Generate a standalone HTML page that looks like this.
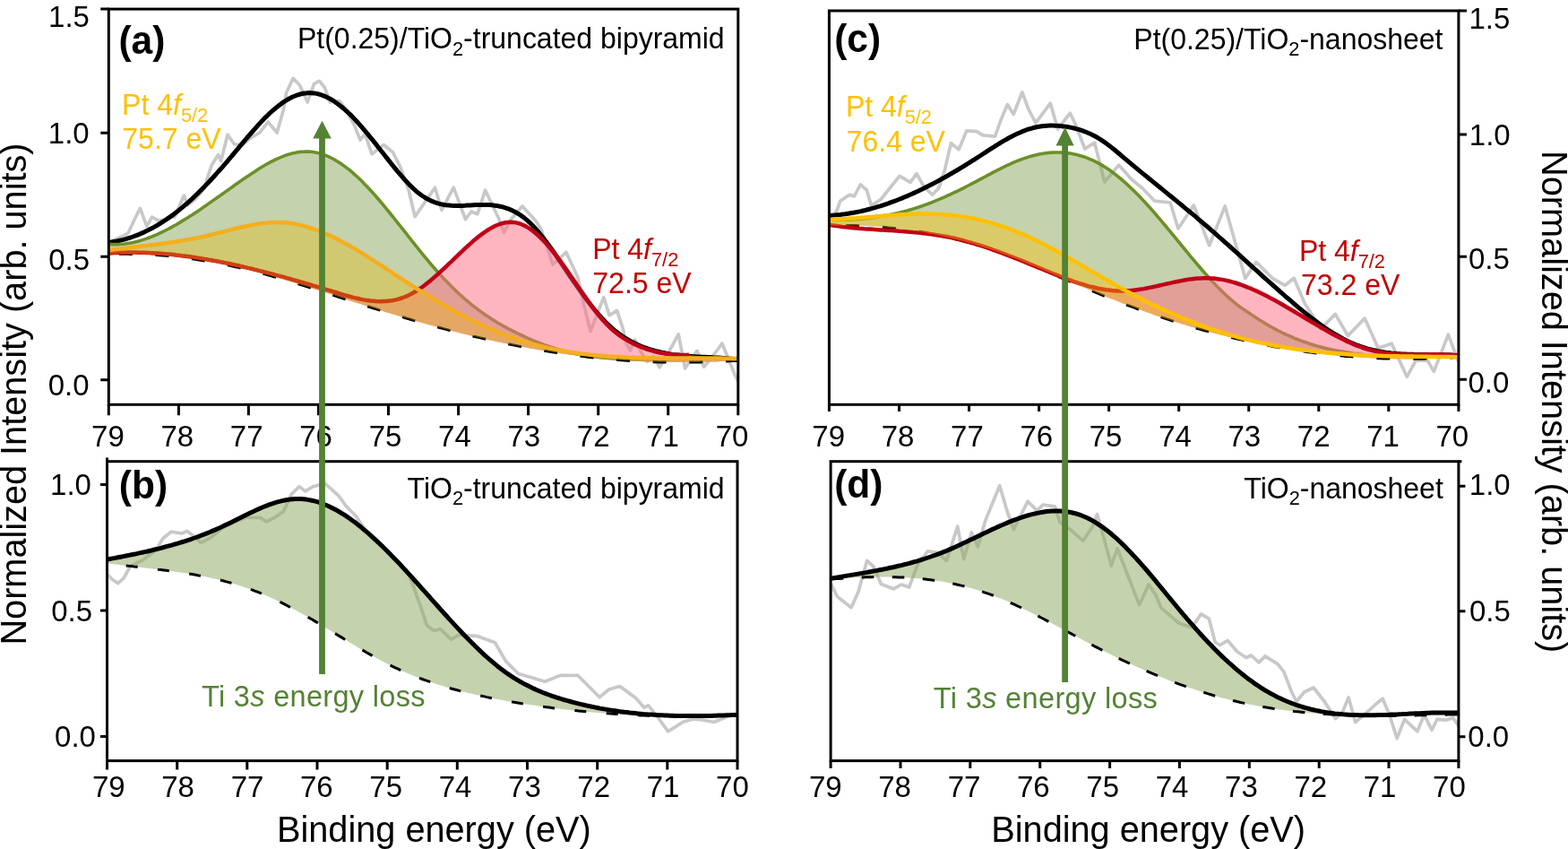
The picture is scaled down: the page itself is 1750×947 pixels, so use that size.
<!DOCTYPE html><html><head><meta charset="utf-8"><title>XPS Pt 4f spectra</title><style>html,body{margin:0;padding:0;background:#fff;overflow:hidden}svg{display:block}</style></head><body><svg width="1750" height="947" viewBox="0 0 1750 947" font-family="'Liberation Sans', sans-serif">
<rect width="1750" height="947" fill="#fff"/>
<defs>
<clipPath id="clipa"><rect x="121.3" y="10.1" width="702.5" height="441.2"/></clipPath>
<clipPath id="clipb"><rect x="119.5" y="514.7" width="703.5" height="333.9"/></clipPath>
<clipPath id="clipc"><rect x="925.4" y="12" width="702.5" height="439.3"/></clipPath>
<clipPath id="clipd"><rect x="927.1" y="514.7" width="700.8" height="333.9"/></clipPath>
</defs>
<g clip-path="url(#clipa)">
<path d="M121.5 270.0L130.0 266.5L137.0 263.5L143.1 259.7L150.0 245.0L156.4 232.4L163.8 252.3L169.7 242.0L177.1 246.4L186.0 244.0L194.9 242.0L205.2 218.3L209.6 228.7L218.0 222.0L227.4 210.9L236.2 184.3L243.6 172.5L246.6 179.9L254.0 150.3L261.4 160.7L270.2 162.2L280.6 153.3L290.0 148.0L299.0 136.0L309.2 148.0L316.6 121.4L319.6 103.6L327.0 87.4L334.3 94.8L343.2 114.0L350.6 93.3L356.5 90.3L362.4 97.7L368.3 114.0L378.7 112.5L386.0 122.0L395.1 138.8L402.1 156.2L407.3 149.3L415.1 171.9L428.2 161.5L438.7 170.2L447.4 187.6L456.1 212.0L463.1 241.6L485.5 209.2L492.9 234.3L506.2 209.2L519.5 244.7L526.0 236.0L532.8 238.8L541.6 212.2L556.4 243.2L562.3 259.5L570.0 245.0L583.0 229.9L597.8 246.2L603.7 255.0L617.0 295.0L631.8 281.3L645.1 309.8L650.6 335.8L659.0 369.6L673.8 331.6L680.1 351.7L688.6 346.4L694.9 365.4L699.1 383.4L703.4 390.8L708.6 379.1L715.0 392.0L722.4 403.4L729.0 398.0L736.1 409.8L745.0 395.0L757.2 372.8L764.6 410.8L778.0 391.4L785.6 409.2L795.0 398.0L805.9 383.0L821.1 420.2L824.0 426.0" fill="none" stroke="#c8c8c8" stroke-width="3.7" stroke-linejoin="round"/>
<path d="M121.5 270.3L124.5 269.9L127.5 269.4L130.5 268.9L133.5 268.3L136.6 267.6L139.6 266.8L142.6 265.9L145.6 265.0L148.6 264.0L151.6 262.8L154.6 261.7L157.6 260.4L160.6 259.1L163.7 257.6L166.7 256.1L169.7 254.6L172.7 252.9L175.7 251.2L178.7 249.3L181.7 247.4L184.7 245.5L187.7 243.4L190.7 241.3L193.8 239.1L196.8 236.8L199.8 234.4L202.8 231.9L205.8 229.4L208.8 226.8L211.8 224.1L214.8 221.4L217.8 218.5L220.9 215.6L223.9 212.6L226.9 209.6L229.9 206.4L232.9 203.3L235.9 200.0L238.9 196.7L241.9 193.4L244.9 190.0L248.0 186.6L251.0 183.1L254.0 179.6L257.0 176.0L260.0 172.5L263.0 168.9L266.0 165.3L269.0 161.7L272.0 158.1L275.0 154.5L278.1 151.0L281.1 147.5L284.1 144.1L287.1 140.7L290.1 137.4L293.1 134.2L296.1 131.1L299.1 128.2L302.1 125.3L305.2 122.6L308.2 120.1L311.2 117.7L314.2 115.4L317.2 113.4L320.2 111.5L323.2 109.8L326.2 108.3L329.2 107.0L332.3 105.9L335.3 105.0L338.3 104.3L341.3 103.9L344.3 103.6L347.3 103.7L350.3 103.9L353.3 104.4L356.3 105.2L359.3 106.1L362.4 107.3L365.4 108.7L368.4 110.2L371.4 112.0L374.4 114.0L377.4 116.2L380.4 118.5L383.4 121.0L386.4 123.7L389.5 126.5L392.5 129.4L395.5 132.6L398.5 135.8L401.5 139.1L404.5 142.6L407.5 146.1L410.5 149.7L413.5 153.4L416.6 157.1L419.6 160.9L422.6 164.7L425.6 168.5L428.6 172.3L431.6 176.1L434.6 179.9L437.6 183.7L440.6 187.4L443.6 191.1L446.7 194.7L449.7 198.1L452.7 201.5L455.7 204.7L458.7 207.7L461.7 210.6L464.7 213.3L467.7 215.8L470.7 218.0L473.8 220.0L476.8 221.8L479.8 223.4L482.8 224.7L485.8 225.8L488.8 226.8L491.8 227.6L494.8 228.2L497.8 228.7L500.9 229.0L503.9 229.3L506.9 229.4L509.9 229.5L512.9 229.5L515.9 229.4L518.9 229.3L521.9 229.1L524.9 229.0L527.9 228.8L531.0 228.6L534.0 228.5L537.0 228.4L540.0 228.4L543.0 228.5L546.0 228.6L549.0 228.8L552.0 229.2L555.0 229.6L558.1 230.2L561.1 230.9L564.1 231.8L567.1 232.8L570.1 234.1L573.1 235.5L576.1 237.0L579.1 238.8L582.1 240.9L585.2 243.1L588.2 245.6L591.2 248.3L594.2 251.3L597.2 254.5L600.2 257.9L603.2 261.5L606.2 265.3L609.2 269.2L612.2 273.3L615.3 277.5L618.3 281.8L621.3 286.1L624.3 290.5L627.3 294.9L630.3 299.4L633.3 303.8L636.3 308.3L639.3 312.7L642.4 317.0L645.4 321.3L648.4 325.5L651.4 329.7L654.4 333.8L657.4 337.7L660.4 341.6L663.4 345.3L666.4 348.9L669.5 352.4L672.5 355.7L675.5 358.9L678.5 361.9L681.5 364.7L684.5 367.3L687.5 369.8L690.5 372.1L693.5 374.3L696.5 376.3L699.6 378.2L702.6 380.0L705.6 381.6L708.6 383.1L711.6 384.5L714.6 385.8L717.6 387.0L720.6 388.1L723.6 389.2L726.7 390.1L729.7 391.0L732.7 391.8L735.7 392.5L738.7 393.2L741.7 393.8L744.7 394.4L747.7 394.9L750.7 395.4L753.8 395.8L756.8 396.1L759.8 396.5L762.8 396.8L765.8 397.0L768.8 397.3L771.8 397.5L774.8 397.7L777.8 397.9L780.8 398.0L783.9 398.2L786.9 398.3L789.9 398.5L792.9 398.6L795.9 398.8L798.9 398.9L801.9 399.1L804.9 399.3L807.9 399.5L811.0 399.7L814.0 400.0L817.0 400.2L820.0 400.5L823.0 400.9" fill="none" stroke="#000" stroke-width="5.0" stroke-linejoin="round"/>
<path d="M121.5 272.4L124.5 272.6L127.5 272.6L130.5 272.6L133.5 272.5L136.6 272.3L139.6 272.0L142.6 271.5L145.6 271.0L148.6 270.4L151.6 269.7L154.6 269.0L157.6 268.1L160.6 267.1L163.7 266.1L166.7 265.0L169.7 263.9L172.7 262.6L175.7 261.3L178.7 259.9L181.7 258.5L184.7 257.0L187.7 255.5L190.7 253.9L193.8 252.2L196.8 250.5L199.8 248.7L202.8 246.9L205.8 245.1L208.8 243.2L211.8 241.3L214.8 239.4L217.8 237.4L220.9 235.4L223.9 233.4L226.9 231.3L229.9 229.2L232.9 227.1L235.9 225.0L238.9 222.9L241.9 220.8L244.9 218.7L248.0 216.5L251.0 214.4L254.0 212.2L257.0 210.1L260.0 208.0L263.0 205.8L266.0 203.7L269.0 201.6L272.0 199.5L275.0 197.5L278.1 195.4L281.1 193.4L284.1 191.5L287.1 189.5L290.1 187.6L293.1 185.8L296.1 184.0L299.1 182.3L302.1 180.7L305.2 179.2L308.2 177.7L311.2 176.3L314.2 175.1L317.2 173.9L320.2 172.8L323.2 171.9L326.2 171.1L329.2 170.4L332.3 169.8L335.3 169.4L338.3 169.2L341.3 169.0L344.3 169.1L347.3 169.3L350.3 169.7L353.3 170.2L356.3 171.0L359.3 171.9L362.4 172.9L365.4 174.1L368.4 175.5L371.4 177.0L374.4 178.7L377.4 180.5L380.4 182.5L383.4 184.6L386.4 186.8L389.5 189.2L392.5 191.7L395.5 194.3L398.5 197.0L401.5 199.8L404.5 202.8L407.5 205.9L410.5 209.0L413.5 212.3L416.6 215.6L419.6 219.0L422.6 222.5L425.6 226.0L428.6 229.6L431.6 233.3L434.6 237.0L437.6 240.7L440.6 244.5L443.6 248.3L446.7 252.1L449.7 255.9L452.7 259.7L455.7 263.5L458.7 267.3L461.7 271.1L464.7 274.9L467.7 278.7L470.7 282.4L473.8 286.1L476.8 289.7L479.8 293.3L482.8 296.8L485.8 300.2L488.8 303.6L491.8 306.9L494.8 310.2L497.8 313.3L500.9 316.5L503.9 319.5L506.9 322.5L509.9 325.4L512.9 328.2L515.9 330.9L518.9 333.6L521.9 336.1L524.9 338.6L527.9 341.1L531.0 343.4L534.0 345.7L537.0 347.9L540.0 350.0L543.0 352.1L546.0 354.1L549.0 356.1L552.0 357.9L555.0 359.8L558.1 361.5L561.1 363.3L564.1 364.9L567.1 366.6L570.1 368.1L573.1 369.7L576.1 371.2L579.1 372.6L582.1 374.0L585.2 375.4L588.2 376.8L591.2 378.1L594.2 379.4L597.2 380.6L600.2 381.8L603.2 383.0L606.2 384.1L609.2 385.2L612.2 386.3L615.3 387.3L618.3 388.2L621.3 389.1L624.3 390.0L627.3 390.8L630.3 391.6L633.3 392.4L636.3 393.1L639.3 393.8L642.4 394.4L645.4 395.0L648.4 395.6L651.4 396.1L654.4 396.6L657.4 397.0L660.4 397.5L663.4 397.9L666.4 398.2L669.5 398.6L672.5 398.9L675.5 399.2L678.5 399.4L681.5 399.7L684.5 399.9L687.5 400.1L690.5 400.2L693.5 400.4L696.5 400.5L699.6 400.6L702.6 400.7L705.6 400.8L708.6 400.8L711.6 400.9L714.6 400.9L717.6 400.9L720.6 400.9L723.6 400.9L726.7 400.9L729.7 400.9L732.7 400.9L735.7 400.8L738.7 400.8L741.7 400.7L744.7 400.7L747.7 400.6L750.7 400.5L753.8 400.5L756.8 400.4L759.8 400.3L762.8 400.3L765.8 400.2L768.8 400.2L771.8 400.1L774.8 400.1L777.8 400.0L780.8 400.0L783.9 400.0L786.9 400.0L789.9 400.0L792.9 400.0L795.9 400.0L798.9 400.1L801.9 400.1L804.9 400.2L807.9 400.3L811.0 400.4L814.0 400.5L817.0 400.6L820.0 400.8L823.0 401.0L823.0 402.4L820.0 402.5L817.0 402.6L814.0 402.8L811.0 402.9L807.9 403.0L804.9 403.1L801.9 403.3L798.9 403.4L795.9 403.5L792.9 403.6L789.9 403.6L786.9 403.7L783.9 403.8L780.8 403.9L777.8 403.9L774.8 404.0L771.8 404.0L768.8 404.1L765.8 404.1L762.8 404.1L759.8 404.1L756.8 404.1L753.8 404.1L750.7 404.1L747.7 404.1L744.7 404.1L741.7 404.0L738.7 404.0L735.7 403.9L732.7 403.8L729.7 403.7L726.7 403.6L723.6 403.5L720.6 403.4L717.6 403.3L714.6 403.1L711.6 403.0L708.6 402.8L705.6 402.6L702.6 402.4L699.6 402.2L696.5 402.0L693.5 401.8L690.5 401.6L687.5 401.3L684.5 401.1L681.5 400.8L678.5 400.5L675.5 400.3L672.5 400.0L669.5 399.7L666.4 399.4L663.4 399.0L660.4 398.7L657.4 398.4L654.4 398.0L651.4 397.6L648.4 397.3L645.4 396.9L642.4 396.5L639.3 396.1L636.3 395.7L633.3 395.3L630.3 394.8L627.3 394.4L624.3 393.9L621.3 393.5L618.3 393.0L615.3 392.5L612.2 392.1L609.2 391.6L606.2 391.1L603.2 390.5L600.2 390.0L597.2 389.5L594.2 389.0L591.2 388.4L588.2 387.8L585.2 387.3L582.1 386.7L579.1 386.1L576.1 385.5L573.1 384.9L570.1 384.3L567.1 383.7L564.1 383.1L561.1 382.4L558.1 381.8L555.0 381.2L552.0 380.5L549.0 379.8L546.0 379.2L543.0 378.5L540.0 377.8L537.0 377.1L534.0 376.4L531.0 375.7L527.9 375.0L524.9 374.2L521.9 373.5L518.9 372.8L515.9 372.0L512.9 371.3L509.9 370.5L506.9 369.7L503.9 368.9L500.9 368.2L497.8 367.4L494.8 366.6L491.8 365.8L488.8 365.0L485.8 364.1L482.8 363.3L479.8 362.5L476.8 361.7L473.8 360.8L470.7 360.0L467.7 359.1L464.7 358.2L461.7 357.4L458.7 356.5L455.7 355.6L452.7 354.7L449.7 353.8L446.7 352.9L443.6 352.0L440.6 351.1L437.6 350.2L434.6 349.3L431.6 348.4L428.6 347.4L425.6 346.5L422.6 345.6L419.6 344.6L416.6 343.7L413.5 342.7L410.5 341.8L407.5 340.8L404.5 339.8L401.5 338.8L398.5 337.9L395.5 336.9L392.5 335.9L389.5 334.9L386.4 334.0L383.4 333.0L380.4 332.0L377.4 331.0L374.4 330.0L371.4 329.0L368.4 328.1L365.4 327.1L362.4 326.1L359.3 325.1L356.3 324.1L353.3 323.2L350.3 322.2L347.3 321.3L344.3 320.3L341.3 319.3L338.3 318.4L335.3 317.5L332.3 316.5L329.2 315.6L326.2 314.7L323.2 313.8L320.2 312.9L317.2 312.0L314.2 311.1L311.2 310.2L308.2 309.3L305.2 308.5L302.1 307.6L299.1 306.8L296.1 305.9L293.1 305.1L290.1 304.3L287.1 303.5L284.1 302.7L281.1 302.0L278.1 301.2L275.0 300.5L272.0 299.8L269.0 299.0L266.0 298.3L263.0 297.7L260.0 297.0L257.0 296.3L254.0 295.7L251.0 295.1L248.0 294.5L244.9 293.9L241.9 293.3L238.9 292.7L235.9 292.2L232.9 291.7L229.9 291.2L226.9 290.7L223.9 290.2L220.9 289.7L217.8 289.2L214.8 288.8L211.8 288.4L208.8 288.0L205.8 287.6L202.8 287.2L199.8 286.9L196.8 286.5L193.8 286.2L190.7 285.9L187.7 285.6L184.7 285.3L181.7 285.1L178.7 284.8L175.7 284.6L172.7 284.4L169.7 284.2L166.7 284.1L163.7 283.9L160.6 283.8L157.6 283.6L154.6 283.5L151.6 283.5L148.6 283.4L145.6 283.4L142.6 283.3L139.6 283.3L136.6 283.3L133.5 283.3L130.5 283.4L127.5 283.4L124.5 283.5L121.5 283.6Z" fill="#8aa65c" fill-opacity="0.5"/>
<path d="M121.5 272.4L124.5 272.6L127.5 272.6L130.5 272.6L133.5 272.5L136.6 272.3L139.6 272.0L142.6 271.5L145.6 271.0L148.6 270.4L151.6 269.7L154.6 269.0L157.6 268.1L160.6 267.1L163.7 266.1L166.7 265.0L169.7 263.9L172.7 262.6L175.7 261.3L178.7 259.9L181.7 258.5L184.7 257.0L187.7 255.5L190.7 253.9L193.8 252.2L196.8 250.5L199.8 248.7L202.8 246.9L205.8 245.1L208.8 243.2L211.8 241.3L214.8 239.4L217.8 237.4L220.9 235.4L223.9 233.4L226.9 231.3L229.9 229.2L232.9 227.1L235.9 225.0L238.9 222.9L241.9 220.8L244.9 218.7L248.0 216.5L251.0 214.4L254.0 212.2L257.0 210.1L260.0 208.0L263.0 205.8L266.0 203.7L269.0 201.6L272.0 199.5L275.0 197.5L278.1 195.4L281.1 193.4L284.1 191.5L287.1 189.5L290.1 187.6L293.1 185.8L296.1 184.0L299.1 182.3L302.1 180.7L305.2 179.2L308.2 177.7L311.2 176.3L314.2 175.1L317.2 173.9L320.2 172.8L323.2 171.9L326.2 171.1L329.2 170.4L332.3 169.8L335.3 169.4L338.3 169.2L341.3 169.0L344.3 169.1L347.3 169.3L350.3 169.7L353.3 170.2L356.3 171.0L359.3 171.9L362.4 172.9L365.4 174.1L368.4 175.5L371.4 177.0L374.4 178.7L377.4 180.5L380.4 182.5L383.4 184.6L386.4 186.8L389.5 189.2L392.5 191.7L395.5 194.3L398.5 197.0L401.5 199.8L404.5 202.8L407.5 205.9L410.5 209.0L413.5 212.3L416.6 215.6L419.6 219.0L422.6 222.5L425.6 226.0L428.6 229.6L431.6 233.3L434.6 237.0L437.6 240.7L440.6 244.5L443.6 248.3L446.7 252.1L449.7 255.9L452.7 259.7L455.7 263.5L458.7 267.3L461.7 271.1L464.7 274.9L467.7 278.7L470.7 282.4L473.8 286.1L476.8 289.7L479.8 293.3L482.8 296.8L485.8 300.2L488.8 303.6L491.8 306.9L494.8 310.2L497.8 313.3L500.9 316.5L503.9 319.5L506.9 322.5L509.9 325.4L512.9 328.2L515.9 330.9L518.9 333.6L521.9 336.1L524.9 338.6L527.9 341.1L531.0 343.4L534.0 345.7L537.0 347.9L540.0 350.0L543.0 352.1L546.0 354.1L549.0 356.1L552.0 357.9L555.0 359.8L558.1 361.5L561.1 363.3L564.1 364.9L567.1 366.6L570.1 368.1L573.1 369.7L576.1 371.2L579.1 372.6L582.1 374.0L585.2 375.4L588.2 376.8L591.2 378.1L594.2 379.4L597.2 380.6L600.2 381.8L603.2 383.0L606.2 384.1L609.2 385.2L612.2 386.3L615.3 387.3L618.3 388.2L621.3 389.1L624.3 390.0L627.3 390.8L630.3 391.6L633.3 392.4L636.3 393.1L639.3 393.8L642.4 394.4L645.4 395.0L648.4 395.6L651.4 396.1L654.4 396.6L657.4 397.0L660.4 397.5L663.4 397.9L666.4 398.2L669.5 398.6L672.5 398.9L675.5 399.2L678.5 399.4L681.5 399.7L684.5 399.9L687.5 400.1L690.5 400.2L693.5 400.4L696.5 400.5L699.6 400.6L702.6 400.7L705.6 400.8L708.6 400.8L711.6 400.9L714.6 400.9L717.6 400.9L720.6 400.9L723.6 400.9L726.7 400.9L729.7 400.9L732.7 400.9L735.7 400.8L738.7 400.8L741.7 400.7L744.7 400.7L747.7 400.6L750.7 400.5L753.8 400.5L756.8 400.4L759.8 400.3L762.8 400.3L765.8 400.2L768.8 400.2L771.8 400.1L774.8 400.1L777.8 400.0L780.8 400.0L783.9 400.0L786.9 400.0L789.9 400.0L792.9 400.0L795.9 400.0L798.9 400.1L801.9 400.1L804.9 400.2L807.9 400.3L811.0 400.4L814.0 400.5L817.0 400.6L820.0 400.8L823.0 401.0" fill="none" stroke="#6b9028" stroke-width="3.6" stroke-linejoin="round"/>
<path d="M121.5 282.4L124.5 282.2L127.5 282.1L130.5 281.9L133.5 281.8L136.6 281.7L139.6 281.7L142.6 281.6L145.6 281.6L148.6 281.6L151.6 281.6L154.6 281.7L157.6 281.7L160.6 281.8L163.6 281.9L166.7 282.1L169.7 282.2L172.7 282.4L175.7 282.6L178.7 282.8L181.7 283.0L184.7 283.3L187.7 283.5L190.7 283.8L193.8 284.1L196.8 284.5L199.8 284.8L202.8 285.2L205.8 285.5L208.8 285.9L211.8 286.3L214.8 286.8L217.8 287.2L220.9 287.7L223.9 288.1L226.9 288.6L229.9 289.1L232.9 289.7L235.9 290.2L238.9 290.8L241.9 291.3L244.9 291.9L247.9 292.5L251.0 293.1L254.0 293.7L257.0 294.3L260.0 295.0L263.0 295.6L266.0 296.3L269.0 297.0L272.0 297.7L275.0 298.4L278.1 299.1L281.1 299.8L284.1 300.6L287.1 301.3L290.1 302.1L293.1 302.8L296.1 303.6L299.1 304.4L302.1 305.2L305.2 306.0L308.2 306.8L311.2 307.6L314.2 308.4L317.2 309.2L320.2 310.1L323.2 310.9L326.2 311.8L329.2 312.6L332.2 313.5L335.3 314.4L338.3 315.2L341.3 316.1L344.3 317.0L347.3 317.9L350.3 318.8L353.3 319.7L356.3 320.6L359.3 321.5L362.4 322.4L365.4 323.3L368.4 324.2L371.4 325.1L374.4 326.0L377.4 327.0L380.4 327.9L383.4 328.8L386.4 329.6L389.5 330.5L392.5 331.3L395.5 332.1L398.5 332.8L401.5 333.5L404.5 334.1L407.5 334.6L410.5 335.1L413.5 335.5L416.5 335.8L419.6 336.1L422.6 336.2L425.6 336.2L428.6 336.1L431.6 336.0L434.6 335.6L437.6 335.2L440.6 334.6L443.6 333.9L446.7 333.0L449.7 332.0L452.7 330.9L455.7 329.5L458.7 328.0L461.7 326.3L464.7 324.5L467.7 322.6L470.7 320.5L473.8 318.2L476.8 315.9L479.8 313.5L482.8 310.9L485.8 308.3L488.8 305.7L491.8 302.9L494.8 300.1L497.8 297.3L500.8 294.4L503.9 291.6L506.9 288.7L509.9 285.8L512.9 282.9L515.9 280.1L518.9 277.2L521.9 274.5L524.9 271.8L527.9 269.1L531.0 266.6L534.0 264.1L537.0 261.8L540.0 259.6L543.0 257.5L546.0 255.6L549.0 253.9L552.0 252.3L555.0 251.0L558.1 249.9L561.1 249.0L564.1 248.3L567.1 247.9L570.1 247.8L573.1 247.9L576.1 248.4L579.1 249.2L582.1 250.2L585.1 251.6L588.2 253.2L591.2 255.1L594.2 257.3L597.2 259.7L600.2 262.3L603.2 265.1L606.2 268.1L609.2 271.3L612.2 274.7L615.3 278.3L618.3 282.0L621.3 285.8L624.3 289.8L627.3 293.9L630.3 298.1L633.3 302.3L636.3 306.7L639.3 311.1L642.4 315.5L645.4 319.9L648.4 324.3L651.4 328.7L654.4 333.1L657.4 337.3L660.4 341.5L663.4 345.5L666.4 349.4L669.4 353.1L672.5 356.7L675.5 360.0L678.5 363.2L681.5 366.1L684.5 368.8L687.5 371.2L690.5 373.5L693.5 375.7L696.5 377.6L699.6 379.4L702.6 381.1L705.6 382.7L708.6 384.1L711.6 385.5L714.6 386.7L717.6 387.9L720.6 389.0L723.6 390.0L726.7 390.9L729.7 391.8L732.7 392.5L735.7 393.2L738.7 393.8L741.7 394.3L744.7 394.7L747.7 395.1L750.7 395.4L753.7 395.7L756.8 395.8L759.8 395.9L762.8 396.0L765.8 395.9L768.8 395.8L823.0 402.4L820.0 402.5L817.0 402.6L814.0 402.8L811.0 402.9L807.9 403.0L804.9 403.1L801.9 403.3L798.9 403.4L795.9 403.5L792.9 403.6L789.9 403.6L786.9 403.7L783.9 403.8L780.8 403.9L777.8 403.9L774.8 404.0L771.8 404.0L768.8 404.1L765.8 404.1L762.8 404.1L759.8 404.1L756.8 404.1L753.8 404.1L750.7 404.1L747.7 404.1L744.7 404.1L741.7 404.0L738.7 404.0L735.7 403.9L732.7 403.8L729.7 403.7L726.7 403.6L723.6 403.5L720.6 403.4L717.6 403.3L714.6 403.1L711.6 403.0L708.6 402.8L705.6 402.6L702.6 402.4L699.6 402.2L696.5 402.0L693.5 401.8L690.5 401.6L687.5 401.3L684.5 401.1L681.5 400.8L678.5 400.5L675.5 400.3L672.5 400.0L669.5 399.7L666.4 399.4L663.4 399.0L660.4 398.7L657.4 398.4L654.4 398.0L651.4 397.6L648.4 397.3L645.4 396.9L642.4 396.5L639.3 396.1L636.3 395.7L633.3 395.3L630.3 394.8L627.3 394.4L624.3 393.9L621.3 393.5L618.3 393.0L615.3 392.5L612.2 392.1L609.2 391.6L606.2 391.1L603.2 390.5L600.2 390.0L597.2 389.5L594.2 389.0L591.2 388.4L588.2 387.8L585.2 387.3L582.1 386.7L579.1 386.1L576.1 385.5L573.1 384.9L570.1 384.3L567.1 383.7L564.1 383.1L561.1 382.4L558.1 381.8L555.0 381.2L552.0 380.5L549.0 379.8L546.0 379.2L543.0 378.5L540.0 377.8L537.0 377.1L534.0 376.4L531.0 375.7L527.9 375.0L524.9 374.2L521.9 373.5L518.9 372.8L515.9 372.0L512.9 371.3L509.9 370.5L506.9 369.7L503.9 368.9L500.9 368.2L497.8 367.4L494.8 366.6L491.8 365.8L488.8 365.0L485.8 364.1L482.8 363.3L479.8 362.5L476.8 361.7L473.8 360.8L470.7 360.0L467.7 359.1L464.7 358.2L461.7 357.4L458.7 356.5L455.7 355.6L452.7 354.7L449.7 353.8L446.7 352.9L443.6 352.0L440.6 351.1L437.6 350.2L434.6 349.3L431.6 348.4L428.6 347.4L425.6 346.5L422.6 345.6L419.6 344.6L416.6 343.7L413.5 342.7L410.5 341.8L407.5 340.8L404.5 339.8L401.5 338.8L398.5 337.9L395.5 336.9L392.5 335.9L389.5 334.9L386.4 334.0L383.4 333.0L380.4 332.0L377.4 331.0L374.4 330.0L371.4 329.0L368.4 328.1L365.4 327.1L362.4 326.1L359.3 325.1L356.3 324.1L353.3 323.2L350.3 322.2L347.3 321.3L344.3 320.3L341.3 319.3L338.3 318.4L335.3 317.5L332.3 316.5L329.2 315.6L326.2 314.7L323.2 313.8L320.2 312.9L317.2 312.0L314.2 311.1L311.2 310.2L308.2 309.3L305.2 308.5L302.1 307.6L299.1 306.8L296.1 305.9L293.1 305.1L290.1 304.3L287.1 303.5L284.1 302.7L281.1 302.0L278.1 301.2L275.0 300.5L272.0 299.8L269.0 299.0L266.0 298.3L263.0 297.7L260.0 297.0L257.0 296.3L254.0 295.7L251.0 295.1L248.0 294.5L244.9 293.9L241.9 293.3L238.9 292.7L235.9 292.2L232.9 291.7L229.9 291.2L226.9 290.7L223.9 290.2L220.9 289.7L217.8 289.2L214.8 288.8L211.8 288.4L208.8 288.0L205.8 287.6L202.8 287.2L199.8 286.9L196.8 286.5L193.8 286.2L190.7 285.9L187.7 285.6L184.7 285.3L181.7 285.1L178.7 284.8L175.7 284.6L172.7 284.4L169.7 284.2L166.7 284.1L163.7 283.9L160.6 283.8L157.6 283.6L154.6 283.5L151.6 283.5L148.6 283.4L145.6 283.4L142.6 283.3L139.6 283.3L136.6 283.3L133.5 283.3L130.5 283.4L127.5 283.4L124.5 283.5L121.5 283.6Z" fill="#ff6b81" fill-opacity="0.5"/>
<path d="M121.5 283.6L124.5 283.5L127.5 283.4L130.5 283.4L133.5 283.3L136.6 283.3L139.6 283.3L142.6 283.3L145.6 283.4L148.6 283.4L151.6 283.5L154.6 283.5L157.6 283.6L160.6 283.8L163.7 283.9L166.7 284.1L169.7 284.2L172.7 284.4L175.7 284.6L178.7 284.8L181.7 285.1L184.7 285.3L187.7 285.6L190.7 285.9L193.8 286.2L196.8 286.5L199.8 286.9L202.8 287.2L205.8 287.6L208.8 288.0L211.8 288.4L214.8 288.8L217.8 289.2L220.9 289.7L223.9 290.2L226.9 290.7L229.9 291.2L232.9 291.7L235.9 292.2L238.9 292.7L241.9 293.3L244.9 293.9L248.0 294.5L251.0 295.1L254.0 295.7L257.0 296.3L260.0 297.0L263.0 297.7L266.0 298.3L269.0 299.0L272.0 299.8L275.0 300.5L278.1 301.2L281.1 302.0L284.1 302.7L287.1 303.5L290.1 304.3L293.1 305.1L296.1 305.9L299.1 306.8L302.1 307.6L305.2 308.5L308.2 309.3L311.2 310.2L314.2 311.1L317.2 312.0L320.2 312.9L323.2 313.8L326.2 314.7L329.2 315.6L332.3 316.5L335.3 317.5L338.3 318.4L341.3 319.3L344.3 320.3L347.3 321.3L350.3 322.2L353.3 323.2L356.3 324.1L359.3 325.1L362.4 326.1L365.4 327.1L368.4 328.1L371.4 329.0L374.4 330.0L377.4 331.0L380.4 332.0L383.4 333.0L386.4 334.0L389.5 334.9L392.5 335.9L395.5 336.9L398.5 337.9L401.5 338.8L404.5 339.8L407.5 340.8L410.5 341.8L413.5 342.7L416.6 343.7L419.6 344.6L422.6 345.6L425.6 346.5L428.6 347.4L431.6 348.4L434.6 349.3L437.6 350.2L440.6 351.1L443.6 352.0L446.7 352.9L449.7 353.8L452.7 354.7L455.7 355.6L458.7 356.5L461.7 357.4L464.7 358.2L467.7 359.1L470.7 360.0L473.8 360.8L476.8 361.7L479.8 362.5L482.8 363.3L485.8 364.1L488.8 365.0L491.8 365.8L494.8 366.6L497.8 367.4L500.9 368.2L503.9 368.9L506.9 369.7L509.9 370.5L512.9 371.3L515.9 372.0L518.9 372.8L521.9 373.5L524.9 374.2L527.9 375.0L531.0 375.7L534.0 376.4L537.0 377.1L540.0 377.8L543.0 378.5L546.0 379.2L549.0 379.8L552.0 380.5L555.0 381.2L558.1 381.8L561.1 382.4L564.1 383.1L567.1 383.7L570.1 384.3L573.1 384.9L576.1 385.5L579.1 386.1L582.1 386.7L585.2 387.3L588.2 387.8L591.2 388.4L594.2 389.0L597.2 389.5L600.2 390.0L603.2 390.5L606.2 391.1L609.2 391.6L612.2 392.1L615.3 392.5L618.3 393.0L621.3 393.5L624.3 393.9L627.3 394.4L630.3 394.8L633.3 395.3L636.3 395.7L639.3 396.1L642.4 396.5L645.4 396.9L648.4 397.3L651.4 397.6L654.4 398.0L657.4 398.4L660.4 398.7L663.4 399.0L666.4 399.4L669.5 399.7L672.5 400.0L675.5 400.3L678.5 400.5L681.5 400.8L684.5 401.1L687.5 401.3L690.5 401.6L693.5 401.8L696.5 402.0L699.6 402.2L702.6 402.4L705.6 402.6L708.6 402.8L711.6 403.0L714.6 403.1L717.6 403.3L720.6 403.4L723.6 403.5L726.7 403.6L729.7 403.7L732.7 403.8L735.7 403.9L738.7 404.0L741.7 404.0L744.7 404.1L747.7 404.1L750.7 404.1L753.8 404.1L756.8 404.1L759.8 404.1L762.8 404.1L765.8 404.1L768.8 404.1L771.8 404.0L774.8 404.0L777.8 403.9L780.8 403.9L783.9 403.8L786.9 403.7L789.9 403.6L792.9 403.6L795.9 403.5L798.9 403.4L801.9 403.3L804.9 403.1L807.9 403.0L811.0 402.9L814.0 402.8L817.0 402.6L820.0 402.5L823.0 402.4" fill="none" stroke="#000" stroke-width="3.0" stroke-dasharray="15 25.7" stroke-dashoffset="29.4"/>
<path d="M121.5 282.4L124.5 282.2L127.5 282.1L130.5 281.9L133.5 281.8L136.6 281.7L139.6 281.7L142.6 281.6L145.6 281.6L148.6 281.6L151.6 281.6L154.6 281.7L157.6 281.7L160.6 281.8L163.6 281.9L166.7 282.1L169.7 282.2L172.7 282.4L175.7 282.6L178.7 282.8L181.7 283.0L184.7 283.3L187.7 283.5L190.7 283.8L193.8 284.1L196.8 284.5L199.8 284.8L202.8 285.2L205.8 285.5L208.8 285.9L211.8 286.3L214.8 286.8L217.8 287.2L220.9 287.7L223.9 288.1L226.9 288.6L229.9 289.1L232.9 289.7L235.9 290.2L238.9 290.8L241.9 291.3L244.9 291.9L247.9 292.5L251.0 293.1L254.0 293.7L257.0 294.3L260.0 295.0L263.0 295.6L266.0 296.3L269.0 297.0L272.0 297.7L275.0 298.4L278.1 299.1L281.1 299.8L284.1 300.6L287.1 301.3L290.1 302.1L293.1 302.8L296.1 303.6L299.1 304.4L302.1 305.2L305.2 306.0L308.2 306.8L311.2 307.6L314.2 308.4L317.2 309.2L320.2 310.1L323.2 310.9L326.2 311.8L329.2 312.6L332.2 313.5L335.3 314.4L338.3 315.2L341.3 316.1L344.3 317.0L347.3 317.9L350.3 318.8L353.3 319.7L356.3 320.6L359.3 321.5L362.4 322.4L365.4 323.3L368.4 324.2L371.4 325.1L374.4 326.0L377.4 327.0L380.4 327.9L383.4 328.8L386.4 329.6L389.5 330.5L392.5 331.3L395.5 332.1L398.5 332.8L401.5 333.5L404.5 334.1L407.5 334.6L410.5 335.1L413.5 335.5L416.5 335.8L419.6 336.1L422.6 336.2L425.6 336.2L428.6 336.1L431.6 336.0L434.6 335.6L437.6 335.2L440.6 334.6L443.6 333.9L446.7 333.0L449.7 332.0L452.7 330.9L455.7 329.5L458.7 328.0L461.7 326.3L464.7 324.5L467.7 322.6L470.7 320.5L473.8 318.2L476.8 315.9L479.8 313.5L482.8 310.9L485.8 308.3L488.8 305.7L491.8 302.9L494.8 300.1L497.8 297.3L500.8 294.4L503.9 291.6L506.9 288.7L509.9 285.8L512.9 282.9L515.9 280.1L518.9 277.2L521.9 274.5L524.9 271.8L527.9 269.1L531.0 266.6L534.0 264.1L537.0 261.8L540.0 259.6L543.0 257.5L546.0 255.6L549.0 253.9L552.0 252.3L555.0 251.0L558.1 249.9L561.1 249.0L564.1 248.3L567.1 247.9L570.1 247.8L573.1 247.9L576.1 248.4L579.1 249.2L582.1 250.2L585.1 251.6L588.2 253.2L591.2 255.1L594.2 257.3L597.2 259.7L600.2 262.3L603.2 265.1L606.2 268.1L609.2 271.3L612.2 274.7L615.3 278.3L618.3 282.0L621.3 285.8L624.3 289.8L627.3 293.9L630.3 298.1L633.3 302.3L636.3 306.7L639.3 311.1L642.4 315.5L645.4 319.9L648.4 324.3L651.4 328.7L654.4 333.1L657.4 337.3L660.4 341.5L663.4 345.5L666.4 349.4L669.4 353.1L672.5 356.7L675.5 360.0L678.5 363.2L681.5 366.1L684.5 368.8L687.5 371.2L690.5 373.5L693.5 375.7L696.5 377.6L699.6 379.4L702.6 381.1L705.6 382.7L708.6 384.1L711.6 385.5L714.6 386.7L717.6 387.9L720.6 389.0L723.6 390.0L726.7 390.9L729.7 391.8L732.7 392.5L735.7 393.2L738.7 393.8L741.7 394.3L744.7 394.7L747.7 395.1L750.7 395.4L753.7 395.7L756.8 395.8L759.8 395.9L762.8 396.0L765.8 395.9L768.8 395.8" fill="none" stroke="#c00018" stroke-width="4.5" stroke-linejoin="round"/>
<path d="M121.5 279.1L124.5 278.7L127.5 278.3L130.5 277.9L133.5 277.6L136.6 277.2L139.6 276.8L142.6 276.5L145.6 276.1L148.6 275.8L151.6 275.4L154.6 275.1L157.6 274.7L160.6 274.3L163.7 274.0L166.7 273.6L169.7 273.2L172.7 272.9L175.7 272.5L178.7 272.1L181.7 271.7L184.7 271.3L187.7 270.8L190.7 270.4L193.8 269.9L196.8 269.5L199.8 269.0L202.8 268.5L205.8 268.0L208.8 267.5L211.8 266.9L214.8 266.3L217.8 265.8L220.9 265.1L223.9 264.5L226.9 263.9L229.9 263.2L232.9 262.5L235.9 261.8L238.9 261.0L241.9 260.3L244.9 259.5L248.0 258.7L251.0 258.0L254.0 257.2L257.0 256.4L260.0 255.7L263.0 254.9L266.0 254.2L269.0 253.5L272.0 252.8L275.0 252.2L278.1 251.6L281.1 251.0L284.1 250.5L287.1 250.0L290.1 249.5L293.1 249.1L296.1 248.8L299.1 248.5L302.1 248.3L305.2 248.2L308.2 248.1L311.2 248.1L314.2 248.2L317.2 248.3L320.2 248.6L323.2 248.9L326.2 249.3L329.2 249.8L332.3 250.4L335.3 251.1L338.3 251.8L341.3 252.6L344.3 253.5L347.3 254.5L350.3 255.5L353.3 256.6L356.3 257.7L359.3 258.9L362.4 260.2L365.4 261.5L368.4 262.9L371.4 264.3L374.4 265.8L377.4 267.3L380.4 268.9L383.4 270.5L386.4 272.2L389.5 273.9L392.5 275.6L395.5 277.3L398.5 279.1L401.5 280.9L404.5 282.8L407.5 284.6L410.5 286.5L413.5 288.4L416.6 290.4L419.6 292.3L422.6 294.3L425.6 296.2L428.6 298.2L431.6 300.2L434.6 302.2L437.6 304.1L440.6 306.1L443.6 308.1L446.7 310.1L449.7 312.0L452.7 314.0L455.7 315.9L458.7 317.9L461.7 319.8L464.7 321.7L467.7 323.6L470.7 325.5L473.8 327.3L476.8 329.2L479.8 331.0L482.8 332.8L485.8 334.6L488.8 336.4L491.8 338.2L494.8 339.9L497.8 341.7L500.9 343.4L503.9 345.0L506.9 346.7L509.9 348.4L512.9 350.0L515.9 351.6L518.9 353.2L521.9 354.7L524.9 356.2L527.9 357.7L531.0 359.2L534.0 360.7L537.0 362.1L540.0 363.5L543.0 364.9L546.0 366.2L549.0 367.5L552.0 368.8L555.0 370.1L558.1 371.3L561.1 372.5L564.1 373.7L567.1 374.8L570.1 375.9L573.1 377.0L576.1 378.0L579.1 379.0L582.1 380.0L585.2 380.9L588.2 381.8L591.2 382.7L594.2 383.6L597.2 384.4L600.2 385.2L603.2 385.9L606.2 386.7L609.2 387.4L612.2 388.1L615.3 388.7L618.3 389.4L621.3 390.0L624.3 390.5L627.3 391.1L630.3 391.6L633.3 392.1L636.3 392.6L639.3 393.1L642.4 393.5L645.4 394.0L648.4 394.4L651.4 394.7L654.4 395.1L657.4 395.4L660.4 395.8L663.4 396.1L666.4 396.4L669.5 396.6L672.5 396.9L675.5 397.1L678.5 397.4L681.5 397.6L684.5 397.8L687.5 398.0L690.5 398.1L693.5 398.3L696.5 398.4L699.6 398.6L702.6 398.7L705.6 398.8L708.6 398.9L711.6 399.0L714.6 399.1L717.6 399.1L720.6 399.2L723.6 399.2L726.7 399.3L729.7 399.3L732.7 399.4L735.7 399.4L738.7 399.4L741.7 399.4L744.7 399.4L747.7 399.5L750.7 399.5L753.8 399.5L756.8 399.5L759.8 399.5L762.8 399.5L765.8 399.5L768.8 399.5L771.8 399.5L774.8 399.5L777.8 399.5L780.8 399.5L783.9 399.5L786.9 399.5L789.9 399.5L792.9 399.5L795.9 399.6L798.9 399.6L801.9 399.6L804.9 399.6L807.9 399.7L811.0 399.7L814.0 399.8L817.0 399.9L820.0 399.9L823.0 400.0L823.0 402.4L820.0 402.5L817.0 402.6L814.0 402.8L811.0 402.9L807.9 403.0L804.9 403.1L801.9 403.3L798.9 403.4L795.9 403.5L792.9 403.6L789.9 403.6L786.9 403.7L783.9 403.8L780.8 403.9L777.8 403.9L774.8 404.0L771.8 404.0L768.8 404.1L765.8 404.1L762.8 404.1L759.8 404.1L756.8 404.1L753.8 404.1L750.7 404.1L747.7 404.1L744.7 404.1L741.7 404.0L738.7 404.0L735.7 403.9L732.7 403.8L729.7 403.7L726.7 403.6L723.6 403.5L720.6 403.4L717.6 403.3L714.6 403.1L711.6 403.0L708.6 402.8L705.6 402.6L702.6 402.4L699.6 402.2L696.5 402.0L693.5 401.8L690.5 401.6L687.5 401.3L684.5 401.1L681.5 400.8L678.5 400.5L675.5 400.3L672.5 400.0L669.5 399.7L666.4 399.4L663.4 399.0L660.4 398.7L657.4 398.4L654.4 398.0L651.4 397.6L648.4 397.3L645.4 396.9L642.4 396.5L639.3 396.1L636.3 395.7L633.3 395.3L630.3 394.8L627.3 394.4L624.3 393.9L621.3 393.5L618.3 393.0L615.3 392.5L612.2 392.1L609.2 391.6L606.2 391.1L603.2 390.5L600.2 390.0L597.2 389.5L594.2 389.0L591.2 388.4L588.2 387.8L585.2 387.3L582.1 386.7L579.1 386.1L576.1 385.5L573.1 384.9L570.1 384.3L567.1 383.7L564.1 383.1L561.1 382.4L558.1 381.8L555.0 381.2L552.0 380.5L549.0 379.8L546.0 379.2L543.0 378.5L540.0 377.8L537.0 377.1L534.0 376.4L531.0 375.7L527.9 375.0L524.9 374.2L521.9 373.5L518.9 372.8L515.9 372.0L512.9 371.3L509.9 370.5L506.9 369.7L503.9 368.9L500.9 368.2L497.8 367.4L494.8 366.6L491.8 365.8L488.8 365.0L485.8 364.1L482.8 363.3L479.8 362.5L476.8 361.7L473.8 360.8L470.7 360.0L467.7 359.1L464.7 358.2L461.7 357.4L458.7 356.5L455.7 355.6L452.7 354.7L449.7 353.8L446.7 352.9L443.6 352.0L440.6 351.1L437.6 350.2L434.6 349.3L431.6 348.4L428.6 347.4L425.6 346.5L422.6 345.6L419.6 344.6L416.6 343.7L413.5 342.7L410.5 341.8L407.5 340.8L404.5 339.8L401.5 338.8L398.5 337.9L395.5 336.9L392.5 335.9L389.5 334.9L386.4 334.0L383.4 333.0L380.4 332.0L377.4 331.0L374.4 330.0L371.4 329.0L368.4 328.1L365.4 327.1L362.4 326.1L359.3 325.1L356.3 324.1L353.3 323.2L350.3 322.2L347.3 321.3L344.3 320.3L341.3 319.3L338.3 318.4L335.3 317.5L332.3 316.5L329.2 315.6L326.2 314.7L323.2 313.8L320.2 312.9L317.2 312.0L314.2 311.1L311.2 310.2L308.2 309.3L305.2 308.5L302.1 307.6L299.1 306.8L296.1 305.9L293.1 305.1L290.1 304.3L287.1 303.5L284.1 302.7L281.1 302.0L278.1 301.2L275.0 300.5L272.0 299.8L269.0 299.0L266.0 298.3L263.0 297.7L260.0 297.0L257.0 296.3L254.0 295.7L251.0 295.1L248.0 294.5L244.9 293.9L241.9 293.3L238.9 292.7L235.9 292.2L232.9 291.7L229.9 291.2L226.9 290.7L223.9 290.2L220.9 289.7L217.8 289.2L214.8 288.8L211.8 288.4L208.8 288.0L205.8 287.6L202.8 287.2L199.8 286.9L196.8 286.5L193.8 286.2L190.7 285.9L187.7 285.6L184.7 285.3L181.7 285.1L178.7 284.8L175.7 284.6L172.7 284.4L169.7 284.2L166.7 284.1L163.7 283.9L160.6 283.8L157.6 283.6L154.6 283.5L151.6 283.5L148.6 283.4L145.6 283.4L142.6 283.3L139.6 283.3L136.6 283.3L133.5 283.3L130.5 283.4L127.5 283.4L124.5 283.5L121.5 283.6Z" fill="#e8ba05" fill-opacity="0.35"/>
<path d="M121.5 279.1L124.5 278.7L127.5 278.3L130.5 277.9L133.5 277.6L136.6 277.2L139.6 276.8L142.6 276.5L145.6 276.1L148.6 275.8L151.6 275.4L154.6 275.1L157.6 274.7L160.6 274.3L163.7 274.0L166.7 273.6L169.7 273.2L172.7 272.9L175.7 272.5L178.7 272.1L181.7 271.7L184.7 271.3L187.7 270.8L190.7 270.4L193.8 269.9L196.8 269.5L199.8 269.0L202.8 268.5L205.8 268.0L208.8 267.5L211.8 266.9L214.8 266.3L217.8 265.8L220.9 265.1L223.9 264.5L226.9 263.9L229.9 263.2L232.9 262.5L235.9 261.8L238.9 261.0L241.9 260.3L244.9 259.5L248.0 258.7L251.0 258.0L254.0 257.2L257.0 256.4L260.0 255.7L263.0 254.9L266.0 254.2L269.0 253.5L272.0 252.8L275.0 252.2L278.1 251.6L281.1 251.0L284.1 250.5L287.1 250.0L290.1 249.5L293.1 249.1L296.1 248.8L299.1 248.5L302.1 248.3L305.2 248.2L308.2 248.1L311.2 248.1L314.2 248.2L317.2 248.3L320.2 248.6L323.2 248.9L326.2 249.3L329.2 249.8L332.3 250.4L335.3 251.1L338.3 251.8L341.3 252.6L344.3 253.5L347.3 254.5L350.3 255.5L353.3 256.6L356.3 257.7L359.3 258.9L362.4 260.2L365.4 261.5L368.4 262.9L371.4 264.3L374.4 265.8L377.4 267.3L380.4 268.9L383.4 270.5L386.4 272.2L389.5 273.9L392.5 275.6L395.5 277.3L398.5 279.1L401.5 280.9L404.5 282.8L407.5 284.6L410.5 286.5L413.5 288.4L416.6 290.4L419.6 292.3L422.6 294.3L425.6 296.2L428.6 298.2L431.6 300.2L434.6 302.2L437.6 304.1L440.6 306.1L443.6 308.1L446.7 310.1L449.7 312.0L452.7 314.0L455.7 315.9L458.7 317.9L461.7 319.8L464.7 321.7L467.7 323.6L470.7 325.5L473.8 327.3L476.8 329.2L479.8 331.0L482.8 332.8L485.8 334.6L488.8 336.4L491.8 338.2L494.8 339.9L497.8 341.7L500.9 343.4L503.9 345.0L506.9 346.7L509.9 348.4L512.9 350.0L515.9 351.6L518.9 353.2L521.9 354.7L524.9 356.2L527.9 357.7L531.0 359.2L534.0 360.7L537.0 362.1L540.0 363.5L543.0 364.9L546.0 366.2L549.0 367.5L552.0 368.8L555.0 370.1L558.1 371.3L561.1 372.5L564.1 373.7L567.1 374.8L570.1 375.9L573.1 377.0L576.1 378.0L579.1 379.0L582.1 380.0L585.2 380.9L588.2 381.8L591.2 382.7L594.2 383.6L597.2 384.4L600.2 385.2L603.2 385.9L606.2 386.7L609.2 387.4L612.2 388.1L615.3 388.7L618.3 389.4L621.3 390.0L624.3 390.5L627.3 391.1L630.3 391.6L633.3 392.1L636.3 392.6L639.3 393.1L642.4 393.5L645.4 394.0L648.4 394.4L651.4 394.7L654.4 395.1L657.4 395.4L660.4 395.8L663.4 396.1L666.4 396.4L669.5 396.6L672.5 396.9L675.5 397.1L678.5 397.4L681.5 397.6L684.5 397.8L687.5 398.0L690.5 398.1L693.5 398.3L696.5 398.4L699.6 398.6L702.6 398.7L705.6 398.8L708.6 398.9L711.6 399.0L714.6 399.1L717.6 399.1L720.6 399.2L723.6 399.2L726.7 399.3L729.7 399.3L732.7 399.4L735.7 399.4L738.7 399.4L741.7 399.4L744.7 399.4L747.7 399.5L750.7 399.5L753.8 399.5L756.8 399.5L759.8 399.5L762.8 399.5L765.8 399.5L768.8 399.5L771.8 399.5L774.8 399.5L777.8 399.5L780.8 399.5L783.9 399.5L786.9 399.5L789.9 399.5L792.9 399.5L795.9 399.6L798.9 399.6L801.9 399.6L804.9 399.6L807.9 399.7L811.0 399.7L814.0 399.8L817.0 399.9L820.0 399.9L823.0 400.0" fill="none" stroke="#f4ae1e" stroke-width="4.5" stroke-linejoin="round"/>
</g>
<g clip-path="url(#clipb)">
<path d="M119.5 640.3L125.0 646.0L131.7 650.7L138.0 645.0L145.6 631.5L159.6 624.6L173.5 614.1L182.2 600.2L191.0 593.2L203.1 595.0L208.4 592.3L217.1 598.4L224.1 605.4L235.0 600.0L247.0 590.0L260.0 583.0L275.0 577.0L290.3 577.5L297.3 581.9L307.0 577.0L316.4 570.5L325.2 551.4L333.9 542.7L340.8 547.9L349.6 542.7L356.0 540.9L362.5 539.2L378.1 553.1L386.9 565.3L397.3 575.8L408.0 591.5L421.7 604.5L439.1 622.0L456.6 641.5L461.3 654.0L470.0 678.0L476.5 697.7L484.0 703.5L491.7 701.6L503.6 713.2L512.3 708.0L533.2 709.7L552.4 716.7L564.6 737.6L578.5 751.5L590.7 755.0L608.1 760.3L625.6 753.3L644.8 753.3L669.2 777.7L679.6 769.0L691.8 765.5L709.7 778.8L719.0 789.2L723.6 786.9L734.0 800.0L745.7 815.9L762.0 805.5L773.6 802.0L785.2 803.2L796.8 805.5L808.4 800.8L814.2 797.4L823.0 797.0" fill="none" stroke="#c8c8c8" stroke-width="3.7" stroke-linejoin="round"/>
<path d="M119.5 624.1L122.5 623.5L125.5 622.9L128.5 622.4L131.5 621.8L134.5 621.2L137.5 620.6L140.5 620.0L143.6 619.4L146.6 618.8L149.6 618.2L152.6 617.6L155.6 616.9L158.6 616.3L161.6 615.6L164.6 615.0L167.6 614.3L170.6 613.5L173.6 612.8L176.6 612.1L179.6 611.3L182.6 610.5L185.6 609.7L188.6 608.9L191.7 608.1L194.7 607.2L197.7 606.3L200.7 605.4L203.7 604.5L206.7 603.6L209.7 602.6L212.7 601.6L215.7 600.5L218.7 599.5L221.7 598.4L224.7 597.2L227.7 596.1L230.7 594.9L233.7 593.7L236.8 592.4L239.8 591.1L242.8 589.8L245.8 588.5L248.8 587.1L251.8 585.6L254.8 584.2L257.8 582.7L260.8 581.2L263.8 579.7L266.8 578.2L269.8 576.7L272.8 575.2L275.8 573.7L278.8 572.3L281.8 570.9L284.9 569.5L287.9 568.1L290.9 566.8L293.9 565.5L296.9 564.3L299.9 563.2L302.9 562.1L305.9 561.1L308.9 560.2L311.9 559.4L314.9 558.6L317.9 558.0L320.9 557.4L323.9 557.0L326.9 556.7L329.9 556.5L333.0 556.5L336.0 556.5L339.0 556.8L342.0 557.1L345.0 557.6L348.0 558.2L351.0 558.9L354.0 559.7L357.0 560.7L360.0 561.8L363.0 563.0L366.0 564.2L369.0 565.7L372.0 567.2L375.0 568.8L378.1 570.5L381.1 572.3L384.1 574.2L387.1 576.1L390.1 578.2L393.1 580.4L396.1 582.6L399.1 584.9L402.1 587.3L405.1 589.8L408.1 592.3L411.1 594.9L414.1 597.6L417.1 600.3L420.1 603.1L423.1 605.9L426.2 608.8L429.2 611.8L432.2 614.7L435.2 617.8L438.2 620.9L441.2 624.0L444.2 627.1L447.2 630.3L450.2 633.6L453.2 636.8L456.2 640.1L459.2 643.4L462.2 646.7L465.2 650.0L468.2 653.4L471.2 656.8L474.3 660.1L477.3 663.5L480.3 666.9L483.3 670.3L486.3 673.6L489.3 677.0L492.3 680.4L495.3 683.7L498.3 687.0L501.3 690.4L504.3 693.6L507.3 696.9L510.3 700.1L513.3 703.3L516.3 706.5L519.4 709.7L522.4 712.7L525.4 715.8L528.4 718.8L531.4 721.7L534.4 724.6L537.4 727.5L540.4 730.3L543.4 733.0L546.4 735.6L549.4 738.2L552.4 740.7L555.4 743.2L558.4 745.5L561.4 747.8L564.4 750.0L567.5 752.1L570.5 754.1L573.5 756.1L576.5 757.9L579.5 759.7L582.5 761.4L585.5 763.1L588.5 764.6L591.5 766.1L594.5 767.6L597.5 768.9L600.5 770.3L603.5 771.5L606.5 772.7L609.5 773.9L612.6 775.0L615.6 776.1L618.6 777.1L621.6 778.1L624.6 779.0L627.6 780.0L630.6 780.8L633.6 781.7L636.6 782.5L639.6 783.3L642.6 784.1L645.6 784.9L648.6 785.6L651.6 786.3L654.6 787.0L657.6 787.6L660.7 788.3L663.7 788.9L666.7 789.5L669.7 790.1L672.7 790.6L675.7 791.1L678.7 791.6L681.7 792.1L684.7 792.6L687.7 793.0L690.7 793.5L693.7 793.9L696.7 794.3L699.7 794.6L702.7 795.0L705.8 795.3L708.8 795.6L711.8 795.9L714.8 796.2L717.8 796.5L720.8 796.7L723.8 796.9L726.8 797.1L729.8 797.3L732.8 797.5L735.8 797.7L738.8 797.8L741.8 798.0L744.8 798.1L747.8 798.2L750.8 798.3L753.9 798.4L756.9 798.5L759.9 798.5L762.9 798.6L765.9 798.6L768.9 798.6L771.9 798.6L774.9 798.6L777.9 798.6L780.9 798.6L783.9 798.5L786.9 798.5L789.9 798.4L792.9 798.4L795.9 798.3L798.9 798.2L802.0 798.1L805.0 798.1L808.0 797.9L811.0 797.8L814.0 797.7L817.0 797.6L820.0 797.5L823.0 797.3L823.0 798.2L820.0 798.3L817.0 798.4L814.0 798.5L811.0 798.6L808.0 798.6L805.0 798.7L802.0 798.8L798.9 798.8L795.9 798.9L792.9 798.9L789.9 799.0L786.9 799.0L783.9 799.1L780.9 799.1L777.9 799.1L774.9 799.1L771.9 799.1L768.9 799.1L765.9 799.1L762.9 799.1L759.9 799.1L756.9 799.0L753.9 799.0L750.8 799.0L747.8 798.9L744.8 798.8L741.8 798.8L738.8 798.7L735.8 798.6L732.8 798.6L729.8 798.5L726.8 798.4L723.8 798.3L720.8 798.1L717.8 798.0L714.8 797.9L711.8 797.8L708.8 797.6L705.8 797.5L702.7 797.3L699.7 797.2L696.7 797.0L693.7 796.8L690.7 796.6L687.7 796.4L684.7 796.2L681.7 796.0L678.7 795.8L675.7 795.6L672.7 795.4L669.7 795.1L666.7 794.9L663.7 794.6L660.7 794.4L657.6 794.1L654.6 793.8L651.6 793.5L648.6 793.2L645.6 792.9L642.6 792.6L639.6 792.3L636.6 792.0L633.6 791.7L630.6 791.3L627.6 791.0L624.6 790.6L621.6 790.3L618.6 789.9L615.6 789.5L612.6 789.1L609.5 788.7L606.5 788.3L603.5 787.9L600.5 787.5L597.5 787.1L594.5 786.6L591.5 786.2L588.5 785.7L585.5 785.2L582.5 784.8L579.5 784.3L576.5 783.8L573.5 783.3L570.5 782.8L567.5 782.2L564.4 781.7L561.4 781.1L558.4 780.6L555.4 780.0L552.4 779.4L549.4 778.8L546.4 778.2L543.4 777.6L540.4 776.9L537.4 776.3L534.4 775.6L531.4 775.0L528.4 774.3L525.4 773.6L522.4 772.9L519.4 772.1L516.3 771.4L513.3 770.6L510.3 769.8L507.3 769.0L504.3 768.2L501.3 767.3L498.3 766.4L495.3 765.5L492.3 764.6L489.3 763.7L486.3 762.7L483.3 761.7L480.3 760.7L477.3 759.6L474.3 758.6L471.2 757.5L468.2 756.3L465.2 755.2L462.2 754.0L459.2 752.8L456.2 751.5L453.2 750.3L450.2 748.9L447.2 747.6L444.2 746.2L441.2 744.8L438.2 743.3L435.2 741.9L432.2 740.3L429.2 738.8L426.2 737.2L423.1 735.6L420.1 733.9L417.1 732.3L414.1 730.6L411.1 728.9L408.1 727.2L405.1 725.4L402.1 723.7L399.1 721.9L396.1 720.1L393.1 718.3L390.1 716.4L387.1 714.6L384.1 712.8L381.1 710.9L378.1 709.1L375.0 707.2L372.0 705.4L369.0 703.5L366.0 701.7L363.0 699.9L360.0 698.0L357.0 696.2L354.0 694.4L351.0 692.6L348.0 690.8L345.0 689.1L342.0 687.3L339.0 685.6L336.0 683.9L333.0 682.2L329.9 680.6L326.9 679.0L323.9 677.4L320.9 675.8L317.9 674.2L314.9 672.7L311.9 671.2L308.9 669.7L305.9 668.3L302.9 666.9L299.9 665.6L296.9 664.2L293.9 662.9L290.9 661.7L287.9 660.4L284.9 659.3L281.8 658.1L278.8 657.0L275.8 655.9L272.8 654.9L269.8 653.9L266.8 652.9L263.8 652.0L260.8 651.1L257.8 650.2L254.8 649.4L251.8 648.6L248.8 647.8L245.8 647.0L242.8 646.3L239.8 645.6L236.8 644.9L233.7 644.3L230.7 643.6L227.7 643.0L224.7 642.4L221.7 641.9L218.7 641.3L215.7 640.8L212.7 640.3L209.7 639.8L206.7 639.3L203.7 638.8L200.7 638.4L197.7 637.9L194.7 637.5L191.7 637.1L188.6 636.7L185.6 636.3L182.6 635.9L179.6 635.5L176.6 635.2L173.6 634.8L170.6 634.4L167.6 634.1L164.6 633.7L161.6 633.4L158.6 633.0L155.6 632.7L152.6 632.3L149.6 632.0L146.6 631.6L143.6 631.3L140.5 630.9L137.5 630.6L134.5 630.2L131.5 629.8L128.5 629.4L125.5 629.1L122.5 628.7L119.5 628.2Z" fill="#8aa65c" fill-opacity="0.5"/>
<path d="M119.5 628.2L122.5 628.7L125.5 629.1L128.5 629.4L131.5 629.8L134.5 630.2L137.5 630.6L140.5 630.9L143.6 631.3L146.6 631.6L149.6 632.0L152.6 632.3L155.6 632.7L158.6 633.0L161.6 633.4L164.6 633.7L167.6 634.1L170.6 634.4L173.6 634.8L176.6 635.2L179.6 635.5L182.6 635.9L185.6 636.3L188.6 636.7L191.7 637.1L194.7 637.5L197.7 637.9L200.7 638.4L203.7 638.8L206.7 639.3L209.7 639.8L212.7 640.3L215.7 640.8L218.7 641.3L221.7 641.9L224.7 642.4L227.7 643.0L230.7 643.6L233.7 644.3L236.8 644.9L239.8 645.6L242.8 646.3L245.8 647.0L248.8 647.8L251.8 648.6L254.8 649.4L257.8 650.2L260.8 651.1L263.8 652.0L266.8 652.9L269.8 653.9L272.8 654.9L275.8 655.9L278.8 657.0L281.8 658.1L284.9 659.3L287.9 660.4L290.9 661.7L293.9 662.9L296.9 664.2L299.9 665.6L302.9 666.9L305.9 668.3L308.9 669.7L311.9 671.2L314.9 672.7L317.9 674.2L320.9 675.8L323.9 677.4L326.9 679.0L329.9 680.6L333.0 682.2L336.0 683.9L339.0 685.6L342.0 687.3L345.0 689.1L348.0 690.8L351.0 692.6L354.0 694.4L357.0 696.2L360.0 698.0L363.0 699.9L366.0 701.7L369.0 703.5L372.0 705.4L375.0 707.2L378.1 709.1L381.1 710.9L384.1 712.8L387.1 714.6L390.1 716.4L393.1 718.3L396.1 720.1L399.1 721.9L402.1 723.7L405.1 725.4L408.1 727.2L411.1 728.9L414.1 730.6L417.1 732.3L420.1 733.9L423.1 735.6L426.2 737.2L429.2 738.8L432.2 740.3L435.2 741.9L438.2 743.3L441.2 744.8L444.2 746.2L447.2 747.6L450.2 748.9L453.2 750.3L456.2 751.5L459.2 752.8L462.2 754.0L465.2 755.2L468.2 756.3L471.2 757.5L474.3 758.6L477.3 759.6L480.3 760.7L483.3 761.7L486.3 762.7L489.3 763.7L492.3 764.6L495.3 765.5L498.3 766.4L501.3 767.3L504.3 768.2L507.3 769.0L510.3 769.8L513.3 770.6L516.3 771.4L519.4 772.1L522.4 772.9L525.4 773.6L528.4 774.3L531.4 775.0L534.4 775.6L537.4 776.3L540.4 776.9L543.4 777.6L546.4 778.2L549.4 778.8L552.4 779.4L555.4 780.0L558.4 780.6L561.4 781.1L564.4 781.7L567.5 782.2L570.5 782.8L573.5 783.3L576.5 783.8L579.5 784.3L582.5 784.8L585.5 785.2L588.5 785.7L591.5 786.2L594.5 786.6L597.5 787.1L600.5 787.5L603.5 787.9L606.5 788.3L609.5 788.7L612.6 789.1L615.6 789.5L618.6 789.9L621.6 790.3L624.6 790.6L627.6 791.0L630.6 791.3L633.6 791.7L636.6 792.0L639.6 792.3L642.6 792.6L645.6 792.9L648.6 793.2L651.6 793.5L654.6 793.8L657.6 794.1L660.7 794.4L663.7 794.6L666.7 794.9L669.7 795.1L672.7 795.4L675.7 795.6L678.7 795.8L681.7 796.0L684.7 796.2L687.7 796.4L690.7 796.6L693.7 796.8L696.7 797.0L699.7 797.2L702.7 797.3L705.8 797.5L708.8 797.6L711.8 797.8L714.8 797.9L717.8 798.0L720.8 798.1L723.8 798.3L726.8 798.4L729.8 798.5L732.8 798.6L735.8 798.6L738.8 798.7L741.8 798.8L744.8 798.8L747.8 798.9L750.8 799.0L753.9 799.0L756.9 799.0L759.9 799.1L762.9 799.1L765.9 799.1L768.9 799.1L771.9 799.1L774.9 799.1L777.9 799.1L780.9 799.1L783.9 799.1L786.9 799.0L789.9 799.0L792.9 798.9L795.9 798.9L798.9 798.8L802.0 798.8L805.0 798.7L808.0 798.6L811.0 798.6L814.0 798.5L817.0 798.4L820.0 798.3L823.0 798.2" fill="none" stroke="#000" stroke-width="3.0" stroke-dasharray="13 22.5" stroke-dashoffset="14.1"/>
<path d="M119.5 624.1L122.5 623.5L125.5 622.9L128.5 622.4L131.5 621.8L134.5 621.2L137.5 620.6L140.5 620.0L143.6 619.4L146.6 618.8L149.6 618.2L152.6 617.6L155.6 616.9L158.6 616.3L161.6 615.6L164.6 615.0L167.6 614.3L170.6 613.5L173.6 612.8L176.6 612.1L179.6 611.3L182.6 610.5L185.6 609.7L188.6 608.9L191.7 608.1L194.7 607.2L197.7 606.3L200.7 605.4L203.7 604.5L206.7 603.6L209.7 602.6L212.7 601.6L215.7 600.5L218.7 599.5L221.7 598.4L224.7 597.2L227.7 596.1L230.7 594.9L233.7 593.7L236.8 592.4L239.8 591.1L242.8 589.8L245.8 588.5L248.8 587.1L251.8 585.6L254.8 584.2L257.8 582.7L260.8 581.2L263.8 579.7L266.8 578.2L269.8 576.7L272.8 575.2L275.8 573.7L278.8 572.3L281.8 570.9L284.9 569.5L287.9 568.1L290.9 566.8L293.9 565.5L296.9 564.3L299.9 563.2L302.9 562.1L305.9 561.1L308.9 560.2L311.9 559.4L314.9 558.6L317.9 558.0L320.9 557.4L323.9 557.0L326.9 556.7L329.9 556.5L333.0 556.5L336.0 556.5L339.0 556.8L342.0 557.1L345.0 557.6L348.0 558.2L351.0 558.9L354.0 559.7L357.0 560.7L360.0 561.8L363.0 563.0L366.0 564.2L369.0 565.7L372.0 567.2L375.0 568.8L378.1 570.5L381.1 572.3L384.1 574.2L387.1 576.1L390.1 578.2L393.1 580.4L396.1 582.6L399.1 584.9L402.1 587.3L405.1 589.8L408.1 592.3L411.1 594.9L414.1 597.6L417.1 600.3L420.1 603.1L423.1 605.9L426.2 608.8L429.2 611.8L432.2 614.7L435.2 617.8L438.2 620.9L441.2 624.0L444.2 627.1L447.2 630.3L450.2 633.6L453.2 636.8L456.2 640.1L459.2 643.4L462.2 646.7L465.2 650.0L468.2 653.4L471.2 656.8L474.3 660.1L477.3 663.5L480.3 666.9L483.3 670.3L486.3 673.6L489.3 677.0L492.3 680.4L495.3 683.7L498.3 687.0L501.3 690.4L504.3 693.6L507.3 696.9L510.3 700.1L513.3 703.3L516.3 706.5L519.4 709.7L522.4 712.7L525.4 715.8L528.4 718.8L531.4 721.7L534.4 724.6L537.4 727.5L540.4 730.3L543.4 733.0L546.4 735.6L549.4 738.2L552.4 740.7L555.4 743.2L558.4 745.5L561.4 747.8L564.4 750.0L567.5 752.1L570.5 754.1L573.5 756.1L576.5 757.9L579.5 759.7L582.5 761.4L585.5 763.1L588.5 764.6L591.5 766.1L594.5 767.6L597.5 768.9L600.5 770.3L603.5 771.5L606.5 772.7L609.5 773.9L612.6 775.0L615.6 776.1L618.6 777.1L621.6 778.1L624.6 779.0L627.6 780.0L630.6 780.8L633.6 781.7L636.6 782.5L639.6 783.3L642.6 784.1L645.6 784.9L648.6 785.6L651.6 786.3L654.6 787.0L657.6 787.6L660.7 788.3L663.7 788.9L666.7 789.5L669.7 790.1L672.7 790.6L675.7 791.1L678.7 791.6L681.7 792.1L684.7 792.6L687.7 793.0L690.7 793.5L693.7 793.9L696.7 794.3L699.7 794.6L702.7 795.0L705.8 795.3L708.8 795.6L711.8 795.9L714.8 796.2L717.8 796.5L720.8 796.7L723.8 796.9L726.8 797.1L729.8 797.3L732.8 797.5L735.8 797.7L738.8 797.8L741.8 798.0L744.8 798.1L747.8 798.2L750.8 798.3L753.9 798.4L756.9 798.5L759.9 798.5L762.9 798.6L765.9 798.6L768.9 798.6L771.9 798.6L774.9 798.6L777.9 798.6L780.9 798.6L783.9 798.5L786.9 798.5L789.9 798.4L792.9 798.4L795.9 798.3L798.9 798.2L802.0 798.1L805.0 798.1L808.0 797.9L811.0 797.8L814.0 797.7L817.0 797.6L820.0 797.5L823.0 797.3" fill="none" stroke="#000" stroke-width="5.0" stroke-linejoin="round"/>
</g>
<g clip-path="url(#clipc)">
<path d="M925.5 241.0L930.0 240.0L934.2 234.7L937.7 224.2L948.1 217.2L953.4 219.0L960.3 205.9L967.3 212.0L972.5 229.4L983.0 222.5L993.0 210.0L1003.9 196.3L1016.1 203.3L1023.1 193.7L1031.0 208.0L1040.5 217.2L1047.5 210.3L1054.5 189.3L1061.4 159.7L1070.1 166.7L1078.9 145.8L1090.0 146.7L1096.9 150.9L1110.6 152.2L1117.0 134.0L1124.3 116.6L1131.2 127.5L1140.8 102.8L1148.0 122.0L1155.9 137.1L1172.3 115.2L1180.6 144.0L1194.3 126.2L1200.0 138.0L1210.8 166.0L1221.7 159.1L1232.7 203.0L1248.6 184.1L1262.6 199.8L1275.0 210.0L1288.7 224.2L1306.1 226.0L1314.9 255.0L1332.3 229.0L1349.7 273.8L1367.2 230.0L1389.8 310.4L1402.0 292.2L1420.1 310.3L1434.2 318.3L1444.2 310.3L1456.2 338.4L1474.3 366.5L1490.3 350.4L1504.4 374.5L1523.1 355.1L1538.1 388.2L1553.2 383.2L1570.2 420.3L1580.2 402.2L1593.3 402.2L1600.3 414.3L1616.4 373.1L1626.4 400.2L1629.0 405.0" fill="none" stroke="#c8c8c8" stroke-width="3.7" stroke-linejoin="round"/>
<path d="M925.5 240.5L928.5 240.3L931.5 240.1L934.5 239.8L937.5 239.5L940.5 239.1L943.5 238.8L946.5 238.3L949.5 237.8L952.5 237.3L955.5 236.7L958.5 236.1L961.5 235.5L964.5 234.8L967.5 234.0L970.5 233.3L973.5 232.4L976.5 231.6L979.5 230.7L982.5 229.8L985.5 228.8L988.5 227.8L991.5 226.8L994.5 225.7L997.6 224.6L1000.6 223.5L1003.6 222.3L1006.6 221.1L1009.6 219.8L1012.6 218.6L1015.6 217.3L1018.6 215.9L1021.6 214.6L1024.6 213.2L1027.6 211.7L1030.6 210.3L1033.6 208.8L1036.6 207.3L1039.6 205.7L1042.6 204.2L1045.6 202.6L1048.6 201.0L1051.6 199.3L1054.6 197.7L1057.6 196.0L1060.6 194.2L1063.6 192.5L1066.6 190.7L1069.6 189.0L1072.6 187.2L1075.6 185.3L1078.6 183.5L1081.6 181.6L1084.6 179.7L1087.6 177.8L1090.6 175.9L1093.6 174.0L1096.6 172.0L1099.6 170.1L1102.6 168.1L1105.6 166.2L1108.6 164.3L1111.6 162.4L1114.6 160.5L1117.6 158.7L1120.6 156.9L1123.6 155.2L1126.6 153.5L1129.6 152.0L1132.6 150.4L1135.6 149.0L1138.7 147.7L1141.7 146.4L1144.7 145.2L1147.7 144.2L1150.7 143.3L1153.7 142.5L1156.7 141.8L1159.7 141.2L1162.7 140.8L1165.7 140.5L1168.7 140.2L1171.7 140.1L1174.7 140.1L1177.7 140.2L1180.7 140.3L1183.7 140.6L1186.7 140.9L1189.7 141.3L1192.7 141.8L1195.7 142.4L1198.7 143.0L1201.7 143.8L1204.7 144.7L1207.7 145.7L1210.7 146.8L1213.7 148.0L1216.7 149.3L1219.7 150.7L1222.7 152.3L1225.7 154.0L1228.7 155.9L1231.7 157.9L1234.7 160.0L1237.7 162.2L1240.7 164.6L1243.7 167.0L1246.7 169.5L1249.7 172.0L1252.7 174.6L1255.7 177.1L1258.7 179.6L1261.7 182.2L1264.7 184.7L1267.7 187.1L1270.7 189.6L1273.7 192.1L1276.8 194.6L1279.8 197.0L1282.8 199.5L1285.8 201.9L1288.8 204.4L1291.8 206.8L1294.8 209.2L1297.8 211.7L1300.8 214.1L1303.8 216.6L1306.8 219.0L1309.8 221.5L1312.8 223.9L1315.8 226.4L1318.8 228.8L1321.8 231.3L1324.8 233.8L1327.8 236.2L1330.8 238.7L1333.8 241.2L1336.8 243.8L1339.8 246.3L1342.8 248.8L1345.8 251.4L1348.8 254.0L1351.8 256.6L1354.8 259.2L1357.8 261.8L1360.8 264.5L1363.8 267.1L1366.8 269.8L1369.8 272.4L1372.8 275.1L1375.8 277.8L1378.8 280.5L1381.8 283.2L1384.8 285.9L1387.8 288.6L1390.8 291.4L1393.8 294.1L1396.8 296.8L1399.8 299.5L1402.8 302.2L1405.8 304.9L1408.8 307.6L1411.8 310.3L1414.8 313.0L1417.9 315.7L1420.9 318.4L1423.9 321.0L1426.9 323.7L1429.9 326.3L1432.9 329.0L1435.9 331.6L1438.9 334.2L1441.9 336.7L1444.9 339.3L1447.9 341.8L1450.9 344.3L1453.9 346.8L1456.9 349.2L1459.9 351.6L1462.9 353.9L1465.9 356.2L1468.9 358.5L1471.9 360.7L1474.9 362.9L1477.9 365.0L1480.9 367.0L1483.9 369.0L1486.9 370.9L1489.9 372.8L1492.9 374.5L1495.9 376.2L1498.9 377.9L1501.9 379.4L1504.9 380.9L1507.9 382.3L1510.9 383.6L1513.9 384.8L1516.9 385.9L1519.9 387.0L1522.9 387.9L1525.9 388.8L1528.9 389.6L1531.9 390.4L1534.9 391.0L1537.9 391.7L1540.9 392.2L1543.9 392.7L1546.9 393.2L1549.9 393.5L1552.9 393.9L1555.9 394.2L1559.0 394.5L1562.0 394.7L1565.0 394.9L1568.0 395.0L1571.0 395.2L1574.0 395.3L1577.0 395.3L1580.0 395.4L1583.0 395.5L1586.0 395.5L1589.0 395.5L1592.0 395.6L1595.0 395.6L1598.0 395.6L1601.0 395.6L1604.0 395.7L1607.0 395.7L1610.0 395.8L1613.0 395.9L1616.0 396.0L1619.0 396.1L1622.0 396.3L1625.0 396.4L1628.0 396.7" fill="none" stroke="#000" stroke-width="5.0" stroke-linejoin="round"/>
<path d="M925.5 245.3L928.5 245.3L931.5 245.4L934.5 245.4L937.5 245.3L940.5 245.3L943.5 245.2L946.5 245.1L949.5 244.9L952.5 244.8L955.5 244.6L958.5 244.4L961.5 244.1L964.5 243.8L967.5 243.5L970.5 243.1L973.5 242.8L976.5 242.4L979.5 241.9L982.5 241.4L985.5 240.9L988.5 240.4L991.5 239.8L994.5 239.2L997.6 238.6L1000.6 237.9L1003.6 237.2L1006.6 236.4L1009.6 235.7L1012.6 234.9L1015.6 234.0L1018.6 233.1L1021.6 232.2L1024.6 231.2L1027.6 230.2L1030.6 229.2L1033.6 228.1L1036.6 227.0L1039.6 225.9L1042.6 224.7L1045.6 223.4L1048.6 222.2L1051.6 220.9L1054.6 219.6L1057.6 218.2L1060.6 216.9L1063.6 215.4L1066.6 214.0L1069.6 212.6L1072.6 211.1L1075.6 209.6L1078.6 208.0L1081.6 206.5L1084.6 204.9L1087.6 203.4L1090.6 201.8L1093.6 200.2L1096.6 198.6L1099.6 197.0L1102.6 195.4L1105.6 193.8L1108.6 192.2L1111.6 190.6L1114.6 189.1L1117.6 187.6L1120.6 186.1L1123.6 184.7L1126.6 183.3L1129.6 181.9L1132.6 180.6L1135.6 179.4L1138.7 178.2L1141.7 177.1L1144.7 176.1L1147.7 175.1L1150.7 174.2L1153.7 173.4L1156.7 172.7L1159.7 172.0L1162.7 171.5L1165.7 171.0L1168.7 170.6L1171.7 170.3L1174.7 170.1L1177.7 170.0L1180.7 170.0L1183.7 170.1L1186.7 170.2L1189.7 170.5L1192.7 170.9L1195.7 171.3L1198.7 171.9L1201.7 172.6L1204.7 173.4L1207.7 174.2L1210.7 175.2L1213.7 176.4L1216.7 177.6L1219.7 178.9L1222.7 180.4L1225.7 181.9L1228.7 183.6L1231.7 185.4L1234.7 187.3L1237.7 189.3L1240.7 191.5L1243.7 193.7L1246.7 196.1L1249.7 198.5L1252.7 201.0L1255.7 203.7L1258.7 206.4L1261.7 209.2L1264.7 212.1L1267.7 215.1L1270.7 218.1L1273.7 221.2L1276.8 224.4L1279.8 227.7L1282.8 231.0L1285.8 234.4L1288.8 237.8L1291.8 241.3L1294.8 244.8L1297.8 248.4L1300.8 252.0L1303.8 255.6L1306.8 259.2L1309.8 262.9L1312.8 266.5L1315.8 270.2L1318.8 273.9L1321.8 277.5L1324.8 281.2L1327.8 284.8L1330.8 288.4L1333.8 292.0L1336.8 295.5L1339.8 299.0L1342.8 302.5L1345.8 305.9L1348.8 309.2L1351.8 312.5L1354.8 315.7L1357.8 318.9L1360.8 321.9L1363.8 324.9L1366.8 327.8L1369.8 330.6L1372.8 333.3L1375.8 335.9L1378.8 338.4L1381.8 340.8L1384.8 343.0L1387.8 345.1L1390.8 347.1L1393.8 349.1L1396.8 351.1L1399.8 353.0L1402.8 354.9L1405.8 356.9L1408.8 358.8L1411.8 360.6L1414.8 362.4L1417.9 364.1L1420.9 365.8L1423.9 367.4L1426.9 369.0L1429.9 370.5L1432.9 372.0L1435.9 373.4L1438.9 374.7L1441.9 376.0L1444.9 377.3L1447.9 378.5L1450.9 379.6L1453.9 380.7L1456.9 381.8L1459.9 382.8L1462.9 383.8L1465.9 384.7L1468.9 385.6L1471.9 386.5L1474.9 387.3L1477.9 388.0L1480.9 388.8L1483.9 389.4L1486.9 390.1L1489.9 390.7L1492.9 391.3L1495.9 391.9L1498.9 392.4L1501.9 392.9L1504.9 393.3L1507.9 393.8L1510.9 394.2L1513.9 394.5L1516.9 394.9L1519.9 395.2L1522.9 395.5L1525.9 395.7L1528.9 396.0L1531.9 396.2L1534.9 396.4L1537.9 396.6L1540.9 396.8L1543.9 396.9L1546.9 397.0L1549.9 397.2L1552.9 397.3L1555.9 397.3L1559.0 397.4L1562.0 397.5L1565.0 397.5L1568.0 397.5L1571.0 397.6L1574.0 397.6L1577.0 397.6L1580.0 397.6L1583.0 397.6L1586.0 397.6L1589.0 397.6L1592.0 397.5L1595.0 397.5L1598.0 397.5L1601.0 397.5L1604.0 397.5L1607.0 397.4L1610.0 397.4L1613.0 397.4L1616.0 397.4L1619.0 397.4L1622.0 397.4L1625.0 397.4L1628.0 397.4L1628.0 398.4L1625.0 398.6L1622.0 398.8L1619.0 399.0L1616.0 399.2L1613.0 399.3L1610.0 399.5L1607.0 399.6L1604.0 399.7L1601.0 399.9L1598.0 400.0L1595.0 400.0L1592.0 400.1L1589.0 400.2L1586.0 400.2L1583.0 400.3L1580.0 400.3L1577.0 400.4L1574.0 400.4L1571.0 400.4L1568.0 400.4L1565.0 400.3L1562.0 400.3L1559.0 400.3L1555.9 400.2L1552.9 400.1L1549.9 400.1L1546.9 400.0L1543.9 399.9L1540.9 399.8L1537.9 399.7L1534.9 399.5L1531.9 399.4L1528.9 399.2L1525.9 399.1L1522.9 398.9L1519.9 398.7L1516.9 398.5L1513.9 398.3L1510.9 398.1L1507.9 397.8L1504.9 397.6L1501.9 397.4L1498.9 397.1L1495.9 396.8L1492.9 396.5L1489.9 396.2L1486.9 395.9L1483.9 395.6L1480.9 395.3L1477.9 394.9L1474.9 394.6L1471.9 394.2L1468.9 393.9L1465.9 393.5L1462.9 393.1L1459.9 392.7L1456.9 392.3L1453.9 391.8L1450.9 391.4L1447.9 390.9L1444.9 390.5L1441.9 390.0L1438.9 389.5L1435.9 389.0L1432.9 388.5L1429.9 388.0L1426.9 387.5L1423.9 386.9L1420.9 386.4L1417.9 385.8L1414.8 385.3L1411.8 384.7L1408.8 384.1L1405.8 383.5L1402.8 382.9L1399.8 382.2L1396.8 381.6L1393.8 381.0L1390.8 380.3L1387.8 379.6L1384.8 378.9L1381.8 378.2L1378.8 377.5L1375.8 376.8L1372.8 376.1L1369.8 375.4L1366.8 374.6L1363.8 373.9L1360.8 373.1L1357.8 372.3L1354.8 371.5L1351.8 370.7L1348.8 369.9L1345.8 369.1L1342.8 368.3L1339.8 367.4L1336.8 366.6L1333.8 365.7L1330.8 364.8L1327.8 363.9L1324.8 363.0L1321.8 362.1L1318.8 361.2L1315.8 360.3L1312.8 359.3L1309.8 358.4L1306.8 357.4L1303.8 356.4L1300.8 355.4L1297.8 354.4L1294.8 353.4L1291.8 352.4L1288.8 351.4L1285.8 350.3L1282.8 349.3L1279.8 348.2L1276.8 347.1L1273.7 346.1L1270.7 345.0L1267.7 343.8L1264.7 342.7L1261.7 341.6L1258.7 340.5L1255.7 339.3L1252.7 338.2L1249.7 337.0L1246.7 335.8L1243.7 334.6L1240.7 333.4L1237.7 332.2L1234.7 331.0L1231.7 329.8L1228.7 328.6L1225.7 327.3L1222.7 326.1L1219.7 324.8L1216.7 323.6L1213.7 322.3L1210.7 321.1L1207.7 319.8L1204.7 318.5L1201.7 317.2L1198.7 316.0L1195.7 314.7L1192.7 313.4L1189.7 312.1L1186.7 310.8L1183.7 309.5L1180.7 308.2L1177.7 306.9L1174.7 305.6L1171.7 304.3L1168.7 303.1L1165.7 301.8L1162.7 300.5L1159.7 299.2L1156.7 297.9L1153.7 296.7L1150.7 295.4L1147.7 294.2L1144.7 292.9L1141.7 291.7L1138.7 290.5L1135.6 289.3L1132.6 288.1L1129.6 286.9L1126.6 285.8L1123.6 284.6L1120.6 283.5L1117.6 282.4L1114.6 281.3L1111.6 280.2L1108.6 279.2L1105.6 278.2L1102.6 277.2L1099.6 276.2L1096.6 275.2L1093.6 274.3L1090.6 273.4L1087.6 272.5L1084.6 271.6L1081.6 270.7L1078.6 269.9L1075.6 269.1L1072.6 268.3L1069.6 267.5L1066.6 266.7L1063.6 266.0L1060.6 265.3L1057.6 264.6L1054.6 263.9L1051.6 263.2L1048.6 262.6L1045.6 262.0L1042.6 261.3L1039.6 260.8L1036.6 260.2L1033.6 259.6L1030.6 259.1L1027.6 258.6L1024.6 258.1L1021.6 257.6L1018.6 257.2L1015.6 256.7L1012.6 256.3L1009.6 255.9L1006.6 255.5L1003.6 255.2L1000.6 254.8L997.6 254.5L994.5 254.2L991.5 253.9L988.5 253.6L985.5 253.3L982.5 253.1L979.5 252.8L976.5 252.6L973.5 252.4L970.5 252.3L967.5 252.1L964.5 252.0L961.5 251.8L958.5 251.7L955.5 251.6L952.5 251.5L949.5 251.5L946.5 251.4L943.5 251.4L940.5 251.4L937.5 251.4L934.5 251.4L931.5 251.4L928.5 251.5L925.5 251.6Z" fill="#8aa65c" fill-opacity="0.5"/>
<path d="M925.5 245.3L928.5 245.3L931.5 245.4L934.5 245.4L937.5 245.3L940.5 245.3L943.5 245.2L946.5 245.1L949.5 244.9L952.5 244.8L955.5 244.6L958.5 244.4L961.5 244.1L964.5 243.8L967.5 243.5L970.5 243.1L973.5 242.8L976.5 242.4L979.5 241.9L982.5 241.4L985.5 240.9L988.5 240.4L991.5 239.8L994.5 239.2L997.6 238.6L1000.6 237.9L1003.6 237.2L1006.6 236.4L1009.6 235.7L1012.6 234.9L1015.6 234.0L1018.6 233.1L1021.6 232.2L1024.6 231.2L1027.6 230.2L1030.6 229.2L1033.6 228.1L1036.6 227.0L1039.6 225.9L1042.6 224.7L1045.6 223.4L1048.6 222.2L1051.6 220.9L1054.6 219.6L1057.6 218.2L1060.6 216.9L1063.6 215.4L1066.6 214.0L1069.6 212.6L1072.6 211.1L1075.6 209.6L1078.6 208.0L1081.6 206.5L1084.6 204.9L1087.6 203.4L1090.6 201.8L1093.6 200.2L1096.6 198.6L1099.6 197.0L1102.6 195.4L1105.6 193.8L1108.6 192.2L1111.6 190.6L1114.6 189.1L1117.6 187.6L1120.6 186.1L1123.6 184.7L1126.6 183.3L1129.6 181.9L1132.6 180.6L1135.6 179.4L1138.7 178.2L1141.7 177.1L1144.7 176.1L1147.7 175.1L1150.7 174.2L1153.7 173.4L1156.7 172.7L1159.7 172.0L1162.7 171.5L1165.7 171.0L1168.7 170.6L1171.7 170.3L1174.7 170.1L1177.7 170.0L1180.7 170.0L1183.7 170.1L1186.7 170.2L1189.7 170.5L1192.7 170.9L1195.7 171.3L1198.7 171.9L1201.7 172.6L1204.7 173.4L1207.7 174.2L1210.7 175.2L1213.7 176.4L1216.7 177.6L1219.7 178.9L1222.7 180.4L1225.7 181.9L1228.7 183.6L1231.7 185.4L1234.7 187.3L1237.7 189.3L1240.7 191.5L1243.7 193.7L1246.7 196.1L1249.7 198.5L1252.7 201.0L1255.7 203.7L1258.7 206.4L1261.7 209.2L1264.7 212.1L1267.7 215.1L1270.7 218.1L1273.7 221.2L1276.8 224.4L1279.8 227.7L1282.8 231.0L1285.8 234.4L1288.8 237.8L1291.8 241.3L1294.8 244.8L1297.8 248.4L1300.8 252.0L1303.8 255.6L1306.8 259.2L1309.8 262.9L1312.8 266.5L1315.8 270.2L1318.8 273.9L1321.8 277.5L1324.8 281.2L1327.8 284.8L1330.8 288.4L1333.8 292.0L1336.8 295.5L1339.8 299.0L1342.8 302.5L1345.8 305.9L1348.8 309.2L1351.8 312.5L1354.8 315.7L1357.8 318.9L1360.8 321.9L1363.8 324.9L1366.8 327.8L1369.8 330.6L1372.8 333.3L1375.8 335.9L1378.8 338.4L1381.8 340.8L1384.8 343.0L1387.8 345.1L1390.8 347.1L1393.8 349.1L1396.8 351.1L1399.8 353.0L1402.8 354.9L1405.8 356.9L1408.8 358.8L1411.8 360.6L1414.8 362.4L1417.9 364.1L1420.9 365.8L1423.9 367.4L1426.9 369.0L1429.9 370.5L1432.9 372.0L1435.9 373.4L1438.9 374.7L1441.9 376.0L1444.9 377.3L1447.9 378.5L1450.9 379.6L1453.9 380.7L1456.9 381.8L1459.9 382.8L1462.9 383.8L1465.9 384.7L1468.9 385.6L1471.9 386.5L1474.9 387.3L1477.9 388.0L1480.9 388.8L1483.9 389.4L1486.9 390.1L1489.9 390.7L1492.9 391.3L1495.9 391.9L1498.9 392.4L1501.9 392.9L1504.9 393.3L1507.9 393.8L1510.9 394.2L1513.9 394.5L1516.9 394.9L1519.9 395.2L1522.9 395.5L1525.9 395.7L1528.9 396.0L1531.9 396.2L1534.9 396.4L1537.9 396.6L1540.9 396.8L1543.9 396.9L1546.9 397.0L1549.9 397.2L1552.9 397.3L1555.9 397.3L1559.0 397.4L1562.0 397.5L1565.0 397.5L1568.0 397.5L1571.0 397.6L1574.0 397.6L1577.0 397.6L1580.0 397.6L1583.0 397.6L1586.0 397.6L1589.0 397.6L1592.0 397.5L1595.0 397.5L1598.0 397.5L1601.0 397.5L1604.0 397.5L1607.0 397.4L1610.0 397.4L1613.0 397.4L1616.0 397.4L1619.0 397.4L1622.0 397.4L1625.0 397.4L1628.0 397.4" fill="none" stroke="#6b9028" stroke-width="3.6" stroke-linejoin="round"/>
<path d="M925.5 250.8L928.5 251.3L931.5 251.4L934.5 251.4L937.5 251.4L940.5 251.4L943.5 251.4L946.5 251.4L949.5 251.5L952.5 251.5L955.5 251.6L958.5 251.7L961.5 251.8L964.5 252.0L967.5 252.1L970.5 252.3L973.5 252.4L976.5 252.6L979.5 252.8L982.5 253.1L985.5 253.3L988.5 253.6L991.5 253.9L994.5 254.2L997.6 254.5L1000.6 254.8L1003.6 255.2L1006.6 255.5L1009.6 255.9L1012.6 256.3L1015.6 256.7L1018.6 257.2L1021.6 257.6L1024.6 258.1L1027.6 258.6L1030.6 259.1L1033.6 259.6L1036.6 260.2L1039.6 260.8L1042.6 261.3L1045.6 262.0L1048.6 262.6L1051.6 263.2L1054.6 263.7L1057.6 264.3L1060.6 264.9L1063.6 265.5L1066.6 266.2L1069.6 266.9L1072.6 267.7L1075.6 268.5L1078.6 269.3L1081.6 270.1L1084.6 271.0L1087.6 271.8L1090.6 272.8L1093.6 273.7L1096.6 274.7L1099.6 275.7L1102.6 276.7L1105.6 277.7L1108.6 278.8L1111.6 279.8L1114.6 280.9L1117.6 282.0L1120.6 283.2L1123.6 284.3L1126.6 285.5L1129.6 286.6L1132.6 287.8L1135.6 289.0L1138.7 290.2L1141.7 291.4L1144.7 292.6L1147.7 293.9L1150.7 295.1L1153.7 296.3L1156.7 297.6L1159.7 298.8L1162.7 300.0L1165.7 301.3L1168.7 302.5L1171.7 303.8L1174.7 305.0L1177.7 306.2L1180.7 307.4L1183.7 308.6L1186.7 309.7L1189.7 310.9L1192.7 312.0L1195.7 313.0L1198.7 314.1L1201.7 315.1L1204.7 316.1L1207.7 317.0L1210.7 317.9L1213.7 318.8L1216.7 319.6L1219.7 320.3L1222.7 321.0L1225.7 321.7L1228.7 322.3L1231.7 322.8L1234.7 323.3L1237.7 323.6L1240.7 324.0L1243.7 324.2L1246.7 324.4L1249.7 324.5L1252.7 324.5L1255.7 324.5L1258.7 324.3L1261.7 324.1L1264.7 323.8L1267.7 323.4L1270.7 323.0L1273.7 322.6L1276.8 322.1L1279.8 321.5L1282.8 320.9L1285.8 320.3L1288.8 319.6L1291.8 319.0L1294.8 318.3L1297.8 317.6L1300.8 316.9L1303.8 316.2L1306.8 315.6L1309.8 314.9L1312.8 314.3L1315.8 313.7L1318.8 313.1L1321.8 312.5L1324.8 312.0L1327.8 311.6L1330.8 311.2L1333.8 310.8L1336.8 310.6L1339.8 310.4L1342.8 310.2L1345.8 310.2L1348.8 310.3L1351.8 310.4L1354.8 310.6L1357.8 311.0L1360.8 311.4L1363.8 311.9L1366.8 312.4L1369.8 313.1L1372.8 313.8L1375.8 314.7L1378.8 315.5L1381.8 316.5L1384.8 317.5L1387.8 318.6L1390.8 319.8L1393.8 321.0L1396.8 322.2L1399.8 323.5L1402.8 324.9L1405.8 326.3L1408.8 327.8L1411.8 329.3L1414.8 330.8L1417.9 332.4L1420.9 334.0L1423.9 335.6L1426.9 337.3L1429.9 339.0L1432.9 340.7L1435.9 342.5L1438.9 344.2L1441.9 346.0L1444.9 347.8L1447.9 349.6L1450.9 351.4L1453.9 353.2L1456.9 355.0L1459.9 356.8L1462.9 358.6L1465.9 360.4L1468.9 362.1L1471.9 363.9L1474.9 365.7L1477.9 367.4L1480.9 369.1L1483.9 370.8L1486.9 372.4L1489.9 374.0L1492.9 375.6L1495.9 377.1L1498.9 378.6L1501.9 380.1L1504.9 381.5L1507.9 382.8L1510.9 384.1L1513.9 385.3L1516.9 386.4L1519.9 387.5L1522.9 388.5L1525.9 389.5L1528.9 390.3L1531.9 391.1L1534.9 391.8L1537.9 392.5L1540.9 393.0L1543.9 393.5L1546.9 393.9L1549.9 394.3L1552.9 394.6L1555.9 394.8L1559.0 395.0L1562.0 395.2L1565.0 395.3L1568.0 395.4L1571.0 395.5L1574.0 395.5L1577.0 395.5L1580.0 395.5L1583.0 395.5L1586.0 395.4L1589.0 395.4L1592.0 395.4L1595.0 395.3L1598.0 395.3L1601.0 395.3L1604.0 395.3L1607.0 395.3L1610.0 395.4L1613.0 395.4L1616.0 395.5L1619.0 395.7L1622.0 395.9L1625.0 396.1L1628.0 396.4L1628.0 398.4L1625.0 398.6L1622.0 398.8L1619.0 399.0L1616.0 399.2L1613.0 399.3L1610.0 399.5L1607.0 399.6L1604.0 399.7L1601.0 399.9L1598.0 400.0L1595.0 400.0L1592.0 400.1L1589.0 400.2L1586.0 400.2L1583.0 400.3L1580.0 400.3L1577.0 400.4L1574.0 400.4L1571.0 400.4L1568.0 400.4L1565.0 400.3L1562.0 400.3L1559.0 400.3L1555.9 400.2L1552.9 400.1L1549.9 400.1L1546.9 400.0L1543.9 399.9L1540.9 399.8L1537.9 399.7L1534.9 399.5L1531.9 399.4L1528.9 399.2L1525.9 399.1L1522.9 398.9L1519.9 398.7L1516.9 398.5L1513.9 398.3L1510.9 398.1L1507.9 397.8L1504.9 397.6L1501.9 397.4L1498.9 397.1L1495.9 396.8L1492.9 396.5L1489.9 396.2L1486.9 395.9L1483.9 395.6L1480.9 395.3L1477.9 394.9L1474.9 394.6L1471.9 394.2L1468.9 393.9L1465.9 393.5L1462.9 393.1L1459.9 392.7L1456.9 392.3L1453.9 391.8L1450.9 391.4L1447.9 390.9L1444.9 390.5L1441.9 390.0L1438.9 389.5L1435.9 389.0L1432.9 388.5L1429.9 388.0L1426.9 387.5L1423.9 386.9L1420.9 386.4L1417.9 385.8L1414.8 385.3L1411.8 384.7L1408.8 384.1L1405.8 383.5L1402.8 382.9L1399.8 382.2L1396.8 381.6L1393.8 381.0L1390.8 380.3L1387.8 379.6L1384.8 378.9L1381.8 378.2L1378.8 377.5L1375.8 376.8L1372.8 376.1L1369.8 375.4L1366.8 374.6L1363.8 373.9L1360.8 373.1L1357.8 372.3L1354.8 371.5L1351.8 370.7L1348.8 369.9L1345.8 369.1L1342.8 368.3L1339.8 367.4L1336.8 366.6L1333.8 365.7L1330.8 364.8L1327.8 363.9L1324.8 363.0L1321.8 362.1L1318.8 361.2L1315.8 360.3L1312.8 359.3L1309.8 358.4L1306.8 357.4L1303.8 356.4L1300.8 355.4L1297.8 354.4L1294.8 353.4L1291.8 352.4L1288.8 351.4L1285.8 350.3L1282.8 349.3L1279.8 348.2L1276.8 347.1L1273.7 346.1L1270.7 345.0L1267.7 343.8L1264.7 342.7L1261.7 341.6L1258.7 340.5L1255.7 339.3L1252.7 338.2L1249.7 337.0L1246.7 335.8L1243.7 334.6L1240.7 333.4L1237.7 332.2L1234.7 331.0L1231.7 329.8L1228.7 328.6L1225.7 327.3L1222.7 326.1L1219.7 324.8L1216.7 323.6L1213.7 322.3L1210.7 321.1L1207.7 319.8L1204.7 318.5L1201.7 317.2L1198.7 316.0L1195.7 314.7L1192.7 313.4L1189.7 312.1L1186.7 310.8L1183.7 309.5L1180.7 308.2L1177.7 306.9L1174.7 305.6L1171.7 304.3L1168.7 303.1L1165.7 301.8L1162.7 300.5L1159.7 299.2L1156.7 297.9L1153.7 296.7L1150.7 295.4L1147.7 294.2L1144.7 292.9L1141.7 291.7L1138.7 290.5L1135.6 289.3L1132.6 288.1L1129.6 286.9L1126.6 285.8L1123.6 284.6L1120.6 283.5L1117.6 282.4L1114.6 281.3L1111.6 280.2L1108.6 279.2L1105.6 278.2L1102.6 277.2L1099.6 276.2L1096.6 275.2L1093.6 274.3L1090.6 273.4L1087.6 272.5L1084.6 271.6L1081.6 270.7L1078.6 269.9L1075.6 269.1L1072.6 268.3L1069.6 267.5L1066.6 266.7L1063.6 266.0L1060.6 265.3L1057.6 264.6L1054.6 263.9L1051.6 263.2L1048.6 262.6L1045.6 262.0L1042.6 261.3L1039.6 260.8L1036.6 260.2L1033.6 259.6L1030.6 259.1L1027.6 258.6L1024.6 258.1L1021.6 257.6L1018.6 257.2L1015.6 256.7L1012.6 256.3L1009.6 255.9L1006.6 255.5L1003.6 255.2L1000.6 254.8L997.6 254.5L994.5 254.2L991.5 253.9L988.5 253.6L985.5 253.3L982.5 253.1L979.5 252.8L976.5 252.6L973.5 252.4L970.5 252.3L967.5 252.1L964.5 252.0L961.5 251.8L958.5 251.7L955.5 251.6L952.5 251.5L949.5 251.5L946.5 251.4L943.5 251.4L940.5 251.4L937.5 251.4L934.5 251.4L931.5 251.4L928.5 251.5L925.5 251.6Z" fill="#ff6b81" fill-opacity="0.5"/>
<path d="M925.5 251.6L928.5 251.5L931.5 251.4L934.5 251.4L937.5 251.4L940.5 251.4L943.5 251.4L946.5 251.4L949.5 251.5L952.5 251.5L955.5 251.6L958.5 251.7L961.5 251.8L964.5 252.0L967.5 252.1L970.5 252.3L973.5 252.4L976.5 252.6L979.5 252.8L982.5 253.1L985.5 253.3L988.5 253.6L991.5 253.9L994.5 254.2L997.6 254.5L1000.6 254.8L1003.6 255.2L1006.6 255.5L1009.6 255.9L1012.6 256.3L1015.6 256.7L1018.6 257.2L1021.6 257.6L1024.6 258.1L1027.6 258.6L1030.6 259.1L1033.6 259.6L1036.6 260.2L1039.6 260.8L1042.6 261.3L1045.6 262.0L1048.6 262.6L1051.6 263.2L1054.6 263.9L1057.6 264.6L1060.6 265.3L1063.6 266.0L1066.6 266.7L1069.6 267.5L1072.6 268.3L1075.6 269.1L1078.6 269.9L1081.6 270.7L1084.6 271.6L1087.6 272.5L1090.6 273.4L1093.6 274.3L1096.6 275.2L1099.6 276.2L1102.6 277.2L1105.6 278.2L1108.6 279.2L1111.6 280.2L1114.6 281.3L1117.6 282.4L1120.6 283.5L1123.6 284.6L1126.6 285.8L1129.6 286.9L1132.6 288.1L1135.6 289.3L1138.7 290.5L1141.7 291.7L1144.7 292.9L1147.7 294.2L1150.7 295.4L1153.7 296.7L1156.7 297.9L1159.7 299.2L1162.7 300.5L1165.7 301.8L1168.7 303.1L1171.7 304.3L1174.7 305.6L1177.7 306.9L1180.7 308.2L1183.7 309.5L1186.7 310.8L1189.7 312.1L1192.7 313.4L1195.7 314.7L1198.7 316.0L1201.7 317.2L1204.7 318.5L1207.7 319.8L1210.7 321.1L1213.7 322.3L1216.7 323.6L1219.7 324.8L1222.7 326.1L1225.7 327.3L1228.7 328.6L1231.7 329.8L1234.7 331.0L1237.7 332.2L1240.7 333.4L1243.7 334.6L1246.7 335.8L1249.7 337.0L1252.7 338.2L1255.7 339.3L1258.7 340.5L1261.7 341.6L1264.7 342.7L1267.7 343.8L1270.7 345.0L1273.7 346.1L1276.8 347.1L1279.8 348.2L1282.8 349.3L1285.8 350.3L1288.8 351.4L1291.8 352.4L1294.8 353.4L1297.8 354.4L1300.8 355.4L1303.8 356.4L1306.8 357.4L1309.8 358.4L1312.8 359.3L1315.8 360.3L1318.8 361.2L1321.8 362.1L1324.8 363.0L1327.8 363.9L1330.8 364.8L1333.8 365.7L1336.8 366.6L1339.8 367.4L1342.8 368.3L1345.8 369.1L1348.8 369.9L1351.8 370.7L1354.8 371.5L1357.8 372.3L1360.8 373.1L1363.8 373.9L1366.8 374.6L1369.8 375.4L1372.8 376.1L1375.8 376.8L1378.8 377.5L1381.8 378.2L1384.8 378.9L1387.8 379.6L1390.8 380.3L1393.8 381.0L1396.8 381.6L1399.8 382.2L1402.8 382.9L1405.8 383.5L1408.8 384.1L1411.8 384.7L1414.8 385.3L1417.9 385.8L1420.9 386.4L1423.9 386.9L1426.9 387.5L1429.9 388.0L1432.9 388.5L1435.9 389.0L1438.9 389.5L1441.9 390.0L1444.9 390.5L1447.9 390.9L1450.9 391.4L1453.9 391.8L1456.9 392.3L1459.9 392.7L1462.9 393.1L1465.9 393.5L1468.9 393.9L1471.9 394.2L1474.9 394.6L1477.9 394.9L1480.9 395.3L1483.9 395.6L1486.9 395.9L1489.9 396.2L1492.9 396.5L1495.9 396.8L1498.9 397.1L1501.9 397.4L1504.9 397.6L1507.9 397.8L1510.9 398.1L1513.9 398.3L1516.9 398.5L1519.9 398.7L1522.9 398.9L1525.9 399.1L1528.9 399.2L1531.9 399.4L1534.9 399.5L1537.9 399.7L1540.9 399.8L1543.9 399.9L1546.9 400.0L1549.9 400.1L1552.9 400.1L1555.9 400.2L1559.0 400.3L1562.0 400.3L1565.0 400.3L1568.0 400.4L1571.0 400.4L1574.0 400.4L1577.0 400.4L1580.0 400.3L1583.0 400.3L1586.0 400.2L1589.0 400.2L1592.0 400.1L1595.0 400.0L1598.0 400.0L1601.0 399.9L1604.0 399.7L1607.0 399.6L1610.0 399.5L1613.0 399.3L1616.0 399.2L1619.0 399.0L1622.0 398.8L1625.0 398.6L1628.0 398.4" fill="none" stroke="#000" stroke-width="3.0" stroke-dasharray="15 26" stroke-dashoffset="22.5"/>
<path d="M925.5 250.8L928.5 251.3L931.5 251.7L934.5 252.1L937.5 252.5L940.5 252.9L943.5 253.2L946.5 253.6L949.5 253.9L952.5 254.2L955.5 254.4L958.5 254.7L961.5 254.9L964.5 255.2L967.5 255.4L970.5 255.6L973.5 255.8L976.5 256.0L979.5 256.2L982.5 256.4L985.5 256.6L988.5 256.8L991.5 257.0L994.5 257.1L997.6 257.3L1000.6 257.5L1003.6 257.8L1006.6 258.0L1009.6 258.2L1012.6 258.4L1015.6 258.7L1018.6 259.0L1021.6 259.2L1024.6 259.5L1027.6 259.8L1030.6 260.2L1033.6 260.5L1036.6 260.9L1039.6 261.3L1042.6 261.7L1045.6 262.2L1048.6 262.7L1051.6 263.2L1054.6 263.7L1057.6 264.3L1060.6 264.9L1063.6 265.5L1066.6 266.2L1069.6 266.9L1072.6 267.7L1075.6 268.5L1078.6 269.3L1081.6 270.1L1084.6 271.0L1087.6 271.8L1090.6 272.8L1093.6 273.7L1096.6 274.7L1099.6 275.7L1102.6 276.7L1105.6 277.7L1108.6 278.8L1111.6 279.8L1114.6 280.9L1117.6 282.0L1120.6 283.2L1123.6 284.3L1126.6 285.5L1129.6 286.6L1132.6 287.8L1135.6 289.0L1138.7 290.2L1141.7 291.4L1144.7 292.6L1147.7 293.9L1150.7 295.1L1153.7 296.3L1156.7 297.6L1159.7 298.8L1162.7 300.0L1165.7 301.3L1168.7 302.5L1171.7 303.8L1174.7 305.0L1177.7 306.2L1180.7 307.4L1183.7 308.6L1186.7 309.7L1189.7 310.9L1192.7 312.0L1195.7 313.0L1198.7 314.1L1201.7 315.1L1204.7 316.1L1207.7 317.0L1210.7 317.9L1213.7 318.8L1216.7 319.6L1219.7 320.3L1222.7 321.0L1225.7 321.7L1228.7 322.3L1231.7 322.8L1234.7 323.3L1237.7 323.6L1240.7 324.0L1243.7 324.2L1246.7 324.4L1249.7 324.5L1252.7 324.5L1255.7 324.5L1258.7 324.3L1261.7 324.1L1264.7 323.8L1267.7 323.4L1270.7 323.0L1273.7 322.6L1276.8 322.1L1279.8 321.5L1282.8 320.9L1285.8 320.3L1288.8 319.6L1291.8 319.0L1294.8 318.3L1297.8 317.6L1300.8 316.9L1303.8 316.2L1306.8 315.6L1309.8 314.9L1312.8 314.3L1315.8 313.7L1318.8 313.1L1321.8 312.5L1324.8 312.0L1327.8 311.6L1330.8 311.2L1333.8 310.8L1336.8 310.6L1339.8 310.4L1342.8 310.2L1345.8 310.2L1348.8 310.3L1351.8 310.4L1354.8 310.6L1357.8 311.0L1360.8 311.4L1363.8 311.9L1366.8 312.4L1369.8 313.1L1372.8 313.8L1375.8 314.7L1378.8 315.5L1381.8 316.5L1384.8 317.5L1387.8 318.6L1390.8 319.8L1393.8 321.0L1396.8 322.2L1399.8 323.5L1402.8 324.9L1405.8 326.3L1408.8 327.8L1411.8 329.3L1414.8 330.8L1417.9 332.4L1420.9 334.0L1423.9 335.6L1426.9 337.3L1429.9 339.0L1432.9 340.7L1435.9 342.5L1438.9 344.2L1441.9 346.0L1444.9 347.8L1447.9 349.6L1450.9 351.4L1453.9 353.2L1456.9 355.0L1459.9 356.8L1462.9 358.6L1465.9 360.4L1468.9 362.1L1471.9 363.9L1474.9 365.7L1477.9 367.4L1480.9 369.1L1483.9 370.8L1486.9 372.4L1489.9 374.0L1492.9 375.6L1495.9 377.1L1498.9 378.6L1501.9 380.1L1504.9 381.5L1507.9 382.8L1510.9 384.1L1513.9 385.3L1516.9 386.4L1519.9 387.5L1522.9 388.5L1525.9 389.5L1528.9 390.3L1531.9 391.1L1534.9 391.8L1537.9 392.5L1540.9 393.0L1543.9 393.5L1546.9 393.9L1549.9 394.3L1552.9 394.6L1555.9 394.8L1559.0 395.0L1562.0 395.2L1565.0 395.3L1568.0 395.4L1571.0 395.5L1574.0 395.5L1577.0 395.5L1580.0 395.5L1583.0 395.5L1586.0 395.4L1589.0 395.4L1592.0 395.4L1595.0 395.3L1598.0 395.3L1601.0 395.3L1604.0 395.3L1607.0 395.3L1610.0 395.4L1613.0 395.4L1616.0 395.5L1619.0 395.7L1622.0 395.9L1625.0 396.1L1628.0 396.4" fill="none" stroke="#c00018" stroke-width="4.5" stroke-linejoin="round"/>
<path d="M925.5 244.9L928.5 244.8L931.5 244.6L934.5 244.5L937.5 244.3L940.5 244.2L943.5 244.0L946.5 243.8L949.5 243.6L952.5 243.4L955.5 243.2L958.5 242.9L961.5 242.7L964.5 242.5L967.5 242.2L970.5 242.0L973.5 241.7L976.5 241.5L979.5 241.2L982.5 241.0L985.5 240.8L988.5 240.5L991.5 240.3L994.5 240.1L997.6 239.9L1000.6 239.7L1003.6 239.5L1006.6 239.3L1009.6 239.2L1012.6 239.0L1015.6 238.9L1018.6 238.8L1021.6 238.7L1024.6 238.6L1027.6 238.6L1030.6 238.6L1033.6 238.6L1036.6 238.6L1039.6 238.7L1042.6 238.7L1045.6 238.9L1048.6 239.0L1051.6 239.2L1054.6 239.4L1057.6 239.6L1060.6 239.9L1063.6 240.2L1066.6 240.5L1069.6 240.9L1072.6 241.4L1075.6 241.8L1078.6 242.3L1081.6 242.9L1084.6 243.4L1087.6 244.0L1090.6 244.7L1093.6 245.4L1096.6 246.1L1099.6 246.8L1102.6 247.6L1105.6 248.5L1108.6 249.3L1111.6 250.3L1114.6 251.2L1117.6 252.2L1120.6 253.2L1123.6 254.3L1126.6 255.4L1129.6 256.5L1132.6 257.7L1135.6 258.9L1138.7 260.1L1141.7 261.4L1144.7 262.7L1147.7 264.1L1150.7 265.5L1153.7 266.9L1156.7 268.4L1159.7 269.8L1162.7 271.4L1165.7 272.9L1168.7 274.5L1171.7 276.0L1174.7 277.7L1177.7 279.3L1180.7 280.9L1183.7 282.6L1186.7 284.3L1189.7 286.0L1192.7 287.7L1195.7 289.4L1198.7 291.1L1201.7 292.9L1204.7 294.6L1207.7 296.4L1210.7 298.1L1213.7 299.9L1216.7 301.6L1219.7 303.4L1222.7 305.1L1225.7 306.9L1228.7 308.6L1231.7 310.4L1234.7 312.1L1237.7 313.8L1240.7 315.5L1243.7 317.2L1246.7 318.9L1249.7 320.6L1252.7 322.2L1255.7 323.9L1258.7 325.5L1261.7 327.1L1264.7 328.7L1267.7 330.3L1270.7 331.8L1273.7 333.4L1276.8 334.9L1279.8 336.4L1282.8 337.9L1285.8 339.4L1288.8 340.8L1291.8 342.3L1294.8 343.7L1297.8 345.1L1300.8 346.5L1303.8 347.8L1306.8 349.2L1309.8 350.5L1312.8 351.8L1315.8 353.1L1318.8 354.4L1321.8 355.6L1324.8 356.8L1327.8 358.1L1330.8 359.2L1333.8 360.4L1336.8 361.6L1339.8 362.7L1342.8 363.8L1345.8 364.9L1348.8 366.0L1351.8 367.0L1354.8 368.0L1357.8 369.0L1360.8 370.0L1363.8 371.0L1366.8 371.9L1369.8 372.8L1372.8 373.7L1375.8 374.6L1378.8 375.4L1381.8 376.3L1384.8 377.1L1387.8 377.8L1390.8 378.6L1393.8 379.4L1396.8 380.1L1399.8 380.8L1402.8 381.5L1405.8 382.1L1408.8 382.8L1411.8 383.4L1414.8 384.0L1417.9 384.6L1420.9 385.2L1423.9 385.7L1426.9 386.3L1429.9 386.8L1432.9 387.3L1435.9 387.8L1438.9 388.3L1441.9 388.7L1444.9 389.2L1447.9 389.6L1450.9 390.0L1453.9 390.4L1456.9 390.8L1459.9 391.1L1462.9 391.5L1465.9 391.8L1468.9 392.2L1471.9 392.5L1474.9 392.8L1477.9 393.1L1480.9 393.4L1483.9 393.6L1486.9 393.9L1489.9 394.1L1492.9 394.4L1495.9 394.6L1498.9 394.8L1501.9 395.0L1504.9 395.2L1507.9 395.4L1510.9 395.5L1513.9 395.7L1516.9 395.9L1519.9 396.0L1522.9 396.2L1525.9 396.3L1528.9 396.4L1531.9 396.5L1534.9 396.6L1537.9 396.7L1540.9 396.8L1543.9 396.9L1546.9 397.0L1549.9 397.1L1552.9 397.2L1555.9 397.2L1559.0 397.3L1562.0 397.4L1565.0 397.4L1568.0 397.5L1571.0 397.5L1574.0 397.6L1577.0 397.6L1580.0 397.7L1583.0 397.7L1586.0 397.7L1589.0 397.8L1592.0 397.8L1595.0 397.8L1598.0 397.9L1601.0 397.9L1604.0 397.9L1607.0 398.0L1610.0 398.0L1613.0 398.0L1616.0 398.1L1619.0 398.1L1622.0 398.1L1625.0 398.2L1628.0 398.2L1628.0 398.4L1625.0 398.6L1622.0 398.8L1619.0 399.0L1616.0 399.2L1613.0 399.3L1610.0 399.5L1607.0 399.6L1604.0 399.7L1601.0 399.9L1598.0 400.0L1595.0 400.0L1592.0 400.1L1589.0 400.2L1586.0 400.2L1583.0 400.3L1580.0 400.3L1577.0 400.4L1574.0 400.4L1571.0 400.4L1568.0 400.4L1565.0 400.3L1562.0 400.3L1559.0 400.3L1555.9 400.2L1552.9 400.1L1549.9 400.1L1546.9 400.0L1543.9 399.9L1540.9 399.8L1537.9 399.7L1534.9 399.5L1531.9 399.4L1528.9 399.2L1525.9 399.1L1522.9 398.9L1519.9 398.7L1516.9 398.5L1513.9 398.3L1510.9 398.1L1507.9 397.8L1504.9 397.6L1501.9 397.4L1498.9 397.1L1495.9 396.8L1492.9 396.5L1489.9 396.2L1486.9 395.9L1483.9 395.6L1480.9 395.3L1477.9 394.9L1474.9 394.6L1471.9 394.2L1468.9 393.9L1465.9 393.5L1462.9 393.1L1459.9 392.7L1456.9 392.3L1453.9 391.8L1450.9 391.4L1447.9 390.9L1444.9 390.5L1441.9 390.0L1438.9 389.5L1435.9 389.0L1432.9 388.5L1429.9 388.0L1426.9 387.5L1423.9 386.9L1420.9 386.4L1417.9 385.8L1414.8 385.3L1411.8 384.7L1408.8 384.1L1405.8 383.5L1402.8 382.9L1399.8 382.2L1396.8 381.6L1393.8 381.0L1390.8 380.3L1387.8 379.6L1384.8 378.9L1381.8 378.2L1378.8 377.5L1375.8 376.8L1372.8 376.1L1369.8 375.4L1366.8 374.6L1363.8 373.9L1360.8 373.1L1357.8 372.3L1354.8 371.5L1351.8 370.7L1348.8 369.9L1345.8 369.1L1342.8 368.3L1339.8 367.4L1336.8 366.6L1333.8 365.7L1330.8 364.8L1327.8 363.9L1324.8 363.0L1321.8 362.1L1318.8 361.2L1315.8 360.3L1312.8 359.3L1309.8 358.4L1306.8 357.4L1303.8 356.4L1300.8 355.4L1297.8 354.4L1294.8 353.4L1291.8 352.4L1288.8 351.4L1285.8 350.3L1282.8 349.3L1279.8 348.2L1276.8 347.1L1273.7 346.1L1270.7 345.0L1267.7 343.8L1264.7 342.7L1261.7 341.6L1258.7 340.5L1255.7 339.3L1252.7 338.2L1249.7 337.0L1246.7 335.8L1243.7 334.6L1240.7 333.4L1237.7 332.2L1234.7 331.0L1231.7 329.8L1228.7 328.6L1225.7 327.3L1222.7 326.1L1219.7 324.8L1216.7 323.6L1213.7 322.3L1210.7 321.1L1207.7 319.8L1204.7 318.5L1201.7 317.2L1198.7 316.0L1195.7 314.7L1192.7 313.4L1189.7 312.1L1186.7 310.8L1183.7 309.5L1180.7 308.2L1177.7 306.9L1174.7 305.6L1171.7 304.3L1168.7 303.1L1165.7 301.8L1162.7 300.5L1159.7 299.2L1156.7 297.9L1153.7 296.7L1150.7 295.4L1147.7 294.2L1144.7 292.9L1141.7 291.7L1138.7 290.5L1135.6 289.3L1132.6 288.1L1129.6 286.9L1126.6 285.8L1123.6 284.6L1120.6 283.5L1117.6 282.4L1114.6 281.3L1111.6 280.2L1108.6 279.2L1105.6 278.2L1102.6 277.2L1099.6 276.2L1096.6 275.2L1093.6 274.3L1090.6 273.4L1087.6 272.5L1084.6 271.6L1081.6 270.7L1078.6 269.9L1075.6 269.1L1072.6 268.3L1069.6 267.5L1066.6 266.7L1063.6 266.0L1060.6 265.3L1057.6 264.6L1054.6 263.9L1051.6 263.2L1048.6 262.6L1045.6 262.0L1042.6 261.3L1039.6 260.8L1036.6 260.2L1033.6 259.6L1030.6 259.1L1027.6 258.6L1024.6 258.1L1021.6 257.6L1018.6 257.2L1015.6 256.7L1012.6 256.3L1009.6 255.9L1006.6 255.5L1003.6 255.2L1000.6 254.8L997.6 254.5L994.5 254.2L991.5 253.9L988.5 253.6L985.5 253.3L982.5 253.1L979.5 252.8L976.5 252.6L973.5 252.4L970.5 252.3L967.5 252.1L964.5 252.0L961.5 251.8L958.5 251.7L955.5 251.6L952.5 251.5L949.5 251.5L946.5 251.4L943.5 251.4L940.5 251.4L937.5 251.4L934.5 251.4L931.5 251.4L928.5 251.5L925.5 251.6Z" fill="#ffbe00" fill-opacity="0.4"/>
<path d="M925.5 244.9L928.5 244.8L931.5 244.6L934.5 244.5L937.5 244.3L940.5 244.2L943.5 244.0L946.5 243.8L949.5 243.6L952.5 243.4L955.5 243.2L958.5 242.9L961.5 242.7L964.5 242.5L967.5 242.2L970.5 242.0L973.5 241.7L976.5 241.5L979.5 241.2L982.5 241.0L985.5 240.8L988.5 240.5L991.5 240.3L994.5 240.1L997.6 239.9L1000.6 239.7L1003.6 239.5L1006.6 239.3L1009.6 239.2L1012.6 239.0L1015.6 238.9L1018.6 238.8L1021.6 238.7L1024.6 238.6L1027.6 238.6L1030.6 238.6L1033.6 238.6L1036.6 238.6L1039.6 238.7L1042.6 238.7L1045.6 238.9L1048.6 239.0L1051.6 239.2L1054.6 239.4L1057.6 239.6L1060.6 239.9L1063.6 240.2L1066.6 240.5L1069.6 240.9L1072.6 241.4L1075.6 241.8L1078.6 242.3L1081.6 242.9L1084.6 243.4L1087.6 244.0L1090.6 244.7L1093.6 245.4L1096.6 246.1L1099.6 246.8L1102.6 247.6L1105.6 248.5L1108.6 249.3L1111.6 250.3L1114.6 251.2L1117.6 252.2L1120.6 253.2L1123.6 254.3L1126.6 255.4L1129.6 256.5L1132.6 257.7L1135.6 258.9L1138.7 260.1L1141.7 261.4L1144.7 262.7L1147.7 264.1L1150.7 265.5L1153.7 266.9L1156.7 268.4L1159.7 269.8L1162.7 271.4L1165.7 272.9L1168.7 274.5L1171.7 276.0L1174.7 277.7L1177.7 279.3L1180.7 280.9L1183.7 282.6L1186.7 284.3L1189.7 286.0L1192.7 287.7L1195.7 289.4L1198.7 291.1L1201.7 292.9L1204.7 294.6L1207.7 296.4L1210.7 298.1L1213.7 299.9L1216.7 301.6L1219.7 303.4L1222.7 305.1L1225.7 306.9L1228.7 308.6L1231.7 310.4L1234.7 312.1L1237.7 313.8L1240.7 315.5L1243.7 317.2L1246.7 318.9L1249.7 320.6L1252.7 322.2L1255.7 323.9L1258.7 325.5L1261.7 327.1L1264.7 328.7L1267.7 330.3L1270.7 331.8L1273.7 333.4L1276.8 334.9L1279.8 336.4L1282.8 337.9L1285.8 339.4L1288.8 340.8L1291.8 342.3L1294.8 343.7L1297.8 345.1L1300.8 346.5L1303.8 347.8L1306.8 349.2L1309.8 350.5L1312.8 351.8L1315.8 353.1L1318.8 354.4L1321.8 355.6L1324.8 356.8L1327.8 358.1L1330.8 359.2L1333.8 360.4L1336.8 361.6L1339.8 362.7L1342.8 363.8L1345.8 364.9L1348.8 366.0L1351.8 367.0L1354.8 368.0L1357.8 369.0L1360.8 370.0L1363.8 371.0L1366.8 371.9L1369.8 372.8L1372.8 373.7L1375.8 374.6L1378.8 375.4L1381.8 376.3L1384.8 377.1L1387.8 377.8L1390.8 378.6L1393.8 379.4L1396.8 380.1L1399.8 380.8L1402.8 381.5L1405.8 382.1L1408.8 382.8L1411.8 383.4L1414.8 384.0L1417.9 384.6L1420.9 385.2L1423.9 385.7L1426.9 386.3L1429.9 386.8L1432.9 387.3L1435.9 387.8L1438.9 388.3L1441.9 388.7L1444.9 389.2L1447.9 389.6L1450.9 390.0L1453.9 390.4L1456.9 390.8L1459.9 391.1L1462.9 391.5L1465.9 391.8L1468.9 392.2L1471.9 392.5L1474.9 392.8L1477.9 393.1L1480.9 393.4L1483.9 393.6L1486.9 393.9L1489.9 394.1L1492.9 394.4L1495.9 394.6L1498.9 394.8L1501.9 395.0L1504.9 395.2L1507.9 395.4L1510.9 395.5L1513.9 395.7L1516.9 395.9L1519.9 396.0L1522.9 396.2L1525.9 396.3L1528.9 396.4L1531.9 396.5L1534.9 396.6L1537.9 396.7L1540.9 396.8L1543.9 396.9L1546.9 397.0L1549.9 397.1L1552.9 397.2L1555.9 397.2L1559.0 397.3L1562.0 397.4L1565.0 397.4L1568.0 397.5L1571.0 397.5L1574.0 397.6L1577.0 397.6L1580.0 397.7L1583.0 397.7L1586.0 397.7L1589.0 397.8L1592.0 397.8L1595.0 397.8L1598.0 397.9L1601.0 397.9L1604.0 397.9L1607.0 398.0L1610.0 398.0L1613.0 398.0L1616.0 398.1L1619.0 398.1L1622.0 398.1L1625.0 398.2L1628.0 398.2" fill="none" stroke="#ffc000" stroke-width="4.5" stroke-linejoin="round"/>
</g>
<g clip-path="url(#clipd)">
<path d="M927.5 651.5L934.5 665.5L950.1 677.7L958.0 660.0L967.6 625.4L975.0 632.0L983.3 651.5L997.2 656.8L1006.0 652.0L1014.6 655.0L1024.0 630.0L1035.5 614.9L1045.0 616.0L1056.5 625.4L1068.7 587.1L1075.6 623.7L1084.3 594.0L1091.3 609.7L1100.0 580.0L1115.7 541.7L1124.0 570.0L1131.4 590.5L1147.1 559.2L1157.5 569.6L1164.0 563.0L1177.4 564.9L1182.7 582.3L1194.9 591.0L1208.8 603.2L1219.3 587.5L1224.5 573.6L1232.0 600.0L1240.2 631.1L1247.1 611.9L1258.0 640.0L1271.5 674.7L1282.0 652.0L1290.0 663.9L1296.0 678.1L1316.1 695.3L1330.0 700.0L1340.5 684.9L1349.3 690.1L1356.2 716.2L1361.5 719.7L1370.2 714.5L1380.6 726.7L1391.1 733.7L1396.3 731.0L1405.0 738.9L1412.0 731.9L1425.9 740.6L1432.9 749.3L1441.6 772.0L1446.9 782.5L1455.6 772.0L1466.0 766.8L1478.2 782.5L1490.4 801.6L1498.0 795.0L1505.1 777.9L1512.7 805.7L1525.0 795.0L1535.5 785.5L1543.1 779.1L1551.0 798.0L1559.1 823.5L1567.6 802.4L1581.9 815.9L1589.5 797.3L1598.0 814.2L1603.9 802.4L1614.0 803.2L1621.6 800.7L1627.5 809.1L1629.0 812.0" fill="none" stroke="#c8c8c8" stroke-width="3.7" stroke-linejoin="round"/>
<path d="M927.5 645.1L930.5 644.6L933.5 644.1L936.5 643.6L939.5 643.1L942.5 642.6L945.5 642.1L948.5 641.6L951.6 641.1L954.6 640.6L957.6 640.1L960.6 639.6L963.6 639.1L966.6 638.6L969.6 638.0L972.6 637.5L975.6 636.9L978.6 636.4L981.6 635.8L984.6 635.2L987.6 634.6L990.6 634.0L993.6 633.3L996.6 632.7L999.7 632.0L1002.7 631.3L1005.7 630.6L1008.7 629.8L1011.7 629.1L1014.7 628.3L1017.7 627.5L1020.7 626.6L1023.7 625.8L1026.7 624.9L1029.7 624.0L1032.7 623.0L1035.7 622.0L1038.7 621.0L1041.7 619.9L1044.8 618.9L1047.8 617.7L1050.8 616.6L1053.8 615.4L1056.8 614.2L1059.8 612.9L1062.8 611.6L1065.8 610.3L1068.8 608.9L1071.8 607.5L1074.8 606.1L1077.8 604.7L1080.8 603.3L1083.8 601.8L1086.8 600.4L1089.8 598.9L1092.9 597.5L1095.9 596.0L1098.9 594.6L1101.9 593.2L1104.9 591.8L1107.9 590.3L1110.9 589.0L1113.9 587.6L1116.9 586.3L1119.9 585.0L1122.9 583.7L1125.9 582.4L1128.9 581.2L1131.9 580.1L1134.9 579.0L1138.0 577.9L1141.0 576.9L1144.0 575.9L1147.0 575.0L1150.0 574.2L1153.0 573.4L1156.0 572.7L1159.0 572.1L1162.0 571.5L1165.0 571.0L1168.0 570.6L1171.0 570.3L1174.0 570.1L1177.0 570.0L1180.0 570.0L1183.0 570.1L1186.1 570.3L1189.1 570.6L1192.1 571.0L1195.1 571.5L1198.1 572.2L1201.1 573.0L1204.1 573.9L1207.1 575.0L1210.1 576.2L1213.1 577.5L1216.1 579.0L1219.1 580.6L1222.1 582.4L1225.1 584.3L1228.1 586.3L1231.2 588.4L1234.2 590.7L1237.2 593.0L1240.2 595.5L1243.2 598.1L1246.2 600.7L1249.2 603.5L1252.2 606.4L1255.2 609.3L1258.2 612.4L1261.2 615.5L1264.2 618.7L1267.2 621.9L1270.2 625.2L1273.2 628.6L1276.2 632.0L1279.3 635.5L1282.3 639.0L1285.3 642.6L1288.3 646.2L1291.3 649.8L1294.3 653.5L1297.3 657.1L1300.3 660.8L1303.3 664.5L1306.3 668.1L1309.3 671.8L1312.3 675.4L1315.3 679.0L1318.3 682.6L1321.3 686.1L1324.3 689.7L1327.4 693.2L1330.4 696.6L1333.4 700.0L1336.4 703.4L1339.4 706.8L1342.4 710.0L1345.4 713.3L1348.4 716.5L1351.4 719.6L1354.4 722.7L1357.4 725.7L1360.4 728.7L1363.4 731.6L1366.4 734.5L1369.4 737.2L1372.5 740.0L1375.5 742.7L1378.5 745.3L1381.5 747.8L1384.5 750.3L1387.5 752.7L1390.5 755.1L1393.5 757.4L1396.5 759.6L1399.5 761.8L1402.5 763.8L1405.5 765.9L1408.5 767.8L1411.5 769.7L1414.5 771.4L1417.5 773.2L1420.6 774.8L1423.6 776.4L1426.6 777.9L1429.6 779.3L1432.6 780.7L1435.6 782.0L1438.6 783.2L1441.6 784.4L1444.6 785.5L1447.6 786.6L1450.6 787.5L1453.6 788.5L1456.6 789.4L1459.6 790.2L1462.6 791.0L1465.7 791.7L1468.7 792.4L1471.7 793.0L1474.7 793.6L1477.7 794.1L1480.7 794.6L1483.7 795.1L1486.7 795.5L1489.7 795.9L1492.7 796.2L1495.7 796.5L1498.7 796.8L1501.7 797.0L1504.7 797.2L1507.7 797.4L1510.7 797.5L1513.8 797.6L1516.8 797.7L1519.8 797.7L1522.8 797.8L1525.8 797.8L1528.8 797.8L1531.8 797.8L1534.8 797.7L1537.8 797.6L1540.8 797.6L1543.8 797.5L1546.8 797.4L1549.8 797.3L1552.8 797.1L1555.8 797.0L1558.9 796.9L1561.9 796.7L1564.9 796.6L1567.9 796.4L1570.9 796.3L1573.9 796.1L1576.9 796.0L1579.9 795.8L1582.9 795.7L1585.9 795.6L1588.9 795.4L1591.9 795.3L1594.9 795.2L1597.9 795.1L1600.9 795.0L1603.9 795.0L1607.0 794.9L1610.0 794.9L1613.0 794.9L1616.0 794.9L1619.0 794.9L1622.0 795.0L1625.0 795.1L1628.0 795.2L1628.0 796.9L1625.0 796.9L1622.0 797.0L1619.0 797.1L1616.0 797.1L1613.0 797.2L1610.0 797.3L1607.0 797.3L1603.9 797.4L1600.9 797.5L1597.9 797.5L1594.9 797.6L1591.9 797.7L1588.9 797.7L1585.9 797.8L1582.9 797.8L1579.9 797.9L1576.9 797.9L1573.9 798.0L1570.9 798.0L1567.9 798.1L1564.9 798.1L1561.9 798.2L1558.9 798.2L1555.8 798.2L1552.8 798.2L1549.8 798.2L1546.8 798.2L1543.8 798.3L1540.8 798.3L1537.8 798.2L1534.8 798.2L1531.8 798.2L1528.8 798.2L1525.8 798.1L1522.8 798.1L1519.8 798.0L1516.8 798.0L1513.8 797.9L1510.7 797.8L1507.7 797.8L1504.7 797.7L1501.7 797.6L1498.7 797.5L1495.7 797.3L1492.7 797.2L1489.7 797.1L1486.7 796.9L1483.7 796.7L1480.7 796.6L1477.7 796.4L1474.7 796.2L1471.7 796.0L1468.7 795.7L1465.7 795.5L1462.6 795.3L1459.6 795.0L1456.6 794.7L1453.6 794.4L1450.6 794.1L1447.6 793.8L1444.6 793.5L1441.6 793.1L1438.6 792.8L1435.6 792.4L1432.6 792.0L1429.6 791.6L1426.6 791.2L1423.6 790.7L1420.6 790.3L1417.5 789.8L1414.5 789.3L1411.5 788.8L1408.5 788.3L1405.5 787.8L1402.5 787.2L1399.5 786.6L1396.5 786.0L1393.5 785.4L1390.5 784.8L1387.5 784.1L1384.5 783.5L1381.5 782.8L1378.5 782.0L1375.5 781.3L1372.5 780.6L1369.4 779.8L1366.4 779.0L1363.4 778.2L1360.4 777.4L1357.4 776.5L1354.4 775.7L1351.4 774.8L1348.4 773.9L1345.4 772.9L1342.4 772.0L1339.4 771.1L1336.4 770.1L1333.4 769.1L1330.4 768.1L1327.4 767.0L1324.3 766.0L1321.3 764.9L1318.3 763.9L1315.3 762.8L1312.3 761.7L1309.3 760.5L1306.3 759.4L1303.3 758.2L1300.3 757.0L1297.3 755.8L1294.3 754.6L1291.3 753.4L1288.3 752.2L1285.3 750.9L1282.3 749.6L1279.3 748.3L1276.2 747.0L1273.2 745.7L1270.2 744.4L1267.2 743.0L1264.2 741.7L1261.2 740.3L1258.2 738.9L1255.2 737.5L1252.2 736.1L1249.2 734.6L1246.2 733.2L1243.2 731.7L1240.2 730.2L1237.2 728.7L1234.2 727.2L1231.2 725.7L1228.1 724.2L1225.1 722.6L1222.1 721.1L1219.1 719.5L1216.1 717.9L1213.1 716.3L1210.1 714.7L1207.1 713.1L1204.1 711.5L1201.1 709.9L1198.1 708.3L1195.1 706.6L1192.1 705.0L1189.1 703.4L1186.1 701.8L1183.0 700.2L1180.0 698.5L1177.0 696.9L1174.0 695.3L1171.0 693.7L1168.0 692.1L1165.0 690.5L1162.0 689.0L1159.0 687.4L1156.0 685.9L1153.0 684.4L1150.0 682.8L1147.0 681.3L1144.0 679.9L1141.0 678.4L1138.0 677.0L1134.9 675.6L1131.9 674.2L1128.9 672.8L1125.9 671.5L1122.9 670.1L1119.9 668.9L1116.9 667.6L1113.9 666.4L1110.9 665.2L1107.9 664.0L1104.9 662.9L1101.9 661.8L1098.9 660.8L1095.9 659.7L1092.9 658.8L1089.8 657.8L1086.8 656.9L1083.8 656.0L1080.8 655.2L1077.8 654.4L1074.8 653.6L1071.8 652.9L1068.8 652.2L1065.8 651.5L1062.8 650.9L1059.8 650.3L1056.8 649.7L1053.8 649.1L1050.8 648.6L1047.8 648.1L1044.8 647.7L1041.7 647.2L1038.7 646.8L1035.7 646.4L1032.7 646.1L1029.7 645.8L1026.7 645.4L1023.7 645.2L1020.7 644.9L1017.7 644.7L1014.7 644.5L1011.7 644.3L1008.7 644.1L1005.7 644.0L1002.7 643.9L999.7 643.8L996.6 643.7L993.6 643.6L990.6 643.6L987.6 643.5L984.6 643.5L981.6 643.5L978.6 643.6L975.6 643.6L972.6 643.7L969.6 643.7L966.6 643.8L963.6 643.9L960.6 644.1L957.6 644.2L954.6 644.3L951.6 644.5L948.5 644.6L945.5 644.8L942.5 645.0L939.5 645.2L936.5 645.4L933.5 645.6L930.5 645.8L927.5 646.1Z" fill="#8aa65c" fill-opacity="0.5"/>
<path d="M927.5 646.1L930.5 645.8L933.5 645.6L936.5 645.4L939.5 645.2L942.5 645.0L945.5 644.8L948.5 644.6L951.6 644.5L954.6 644.3L957.6 644.2L960.6 644.1L963.6 643.9L966.6 643.8L969.6 643.7L972.6 643.7L975.6 643.6L978.6 643.6L981.6 643.5L984.6 643.5L987.6 643.5L990.6 643.6L993.6 643.6L996.6 643.7L999.7 643.8L1002.7 643.9L1005.7 644.0L1008.7 644.1L1011.7 644.3L1014.7 644.5L1017.7 644.7L1020.7 644.9L1023.7 645.2L1026.7 645.4L1029.7 645.8L1032.7 646.1L1035.7 646.4L1038.7 646.8L1041.7 647.2L1044.8 647.7L1047.8 648.1L1050.8 648.6L1053.8 649.1L1056.8 649.7L1059.8 650.3L1062.8 650.9L1065.8 651.5L1068.8 652.2L1071.8 652.9L1074.8 653.6L1077.8 654.4L1080.8 655.2L1083.8 656.0L1086.8 656.9L1089.8 657.8L1092.9 658.8L1095.9 659.7L1098.9 660.8L1101.9 661.8L1104.9 662.9L1107.9 664.0L1110.9 665.2L1113.9 666.4L1116.9 667.6L1119.9 668.9L1122.9 670.1L1125.9 671.5L1128.9 672.8L1131.9 674.2L1134.9 675.6L1138.0 677.0L1141.0 678.4L1144.0 679.9L1147.0 681.3L1150.0 682.8L1153.0 684.4L1156.0 685.9L1159.0 687.4L1162.0 689.0L1165.0 690.5L1168.0 692.1L1171.0 693.7L1174.0 695.3L1177.0 696.9L1180.0 698.5L1183.0 700.2L1186.1 701.8L1189.1 703.4L1192.1 705.0L1195.1 706.6L1198.1 708.3L1201.1 709.9L1204.1 711.5L1207.1 713.1L1210.1 714.7L1213.1 716.3L1216.1 717.9L1219.1 719.5L1222.1 721.1L1225.1 722.6L1228.1 724.2L1231.2 725.7L1234.2 727.2L1237.2 728.7L1240.2 730.2L1243.2 731.7L1246.2 733.2L1249.2 734.6L1252.2 736.1L1255.2 737.5L1258.2 738.9L1261.2 740.3L1264.2 741.7L1267.2 743.0L1270.2 744.4L1273.2 745.7L1276.2 747.0L1279.3 748.3L1282.3 749.6L1285.3 750.9L1288.3 752.2L1291.3 753.4L1294.3 754.6L1297.3 755.8L1300.3 757.0L1303.3 758.2L1306.3 759.4L1309.3 760.5L1312.3 761.7L1315.3 762.8L1318.3 763.9L1321.3 764.9L1324.3 766.0L1327.4 767.0L1330.4 768.1L1333.4 769.1L1336.4 770.1L1339.4 771.1L1342.4 772.0L1345.4 772.9L1348.4 773.9L1351.4 774.8L1354.4 775.7L1357.4 776.5L1360.4 777.4L1363.4 778.2L1366.4 779.0L1369.4 779.8L1372.5 780.6L1375.5 781.3L1378.5 782.0L1381.5 782.8L1384.5 783.5L1387.5 784.1L1390.5 784.8L1393.5 785.4L1396.5 786.0L1399.5 786.6L1402.5 787.2L1405.5 787.8L1408.5 788.3L1411.5 788.8L1414.5 789.3L1417.5 789.8L1420.6 790.3L1423.6 790.7L1426.6 791.2L1429.6 791.6L1432.6 792.0L1435.6 792.4L1438.6 792.8L1441.6 793.1L1444.6 793.5L1447.6 793.8L1450.6 794.1L1453.6 794.4L1456.6 794.7L1459.6 795.0L1462.6 795.3L1465.7 795.5L1468.7 795.7L1471.7 796.0L1474.7 796.2L1477.7 796.4L1480.7 796.6L1483.7 796.7L1486.7 796.9L1489.7 797.1L1492.7 797.2L1495.7 797.3L1498.7 797.5L1501.7 797.6L1504.7 797.7L1507.7 797.8L1510.7 797.8L1513.8 797.9L1516.8 798.0L1519.8 798.0L1522.8 798.1L1525.8 798.1L1528.8 798.2L1531.8 798.2L1534.8 798.2L1537.8 798.2L1540.8 798.3L1543.8 798.3L1546.8 798.2L1549.8 798.2L1552.8 798.2L1555.8 798.2L1558.9 798.2L1561.9 798.2L1564.9 798.1L1567.9 798.1L1570.9 798.0L1573.9 798.0L1576.9 797.9L1579.9 797.9L1582.9 797.8L1585.9 797.8L1588.9 797.7L1591.9 797.7L1594.9 797.6L1597.9 797.5L1600.9 797.5L1603.9 797.4L1607.0 797.3L1610.0 797.3L1613.0 797.2L1616.0 797.1L1619.0 797.1L1622.0 797.0L1625.0 796.9L1628.0 796.9" fill="none" stroke="#000" stroke-width="3.0" stroke-dasharray="13.5 20.5" stroke-dashoffset="33.6"/>
<path d="M927.5 645.1L930.5 644.6L933.5 644.1L936.5 643.6L939.5 643.1L942.5 642.6L945.5 642.1L948.5 641.6L951.6 641.1L954.6 640.6L957.6 640.1L960.6 639.6L963.6 639.1L966.6 638.6L969.6 638.0L972.6 637.5L975.6 636.9L978.6 636.4L981.6 635.8L984.6 635.2L987.6 634.6L990.6 634.0L993.6 633.3L996.6 632.7L999.7 632.0L1002.7 631.3L1005.7 630.6L1008.7 629.8L1011.7 629.1L1014.7 628.3L1017.7 627.5L1020.7 626.6L1023.7 625.8L1026.7 624.9L1029.7 624.0L1032.7 623.0L1035.7 622.0L1038.7 621.0L1041.7 619.9L1044.8 618.9L1047.8 617.7L1050.8 616.6L1053.8 615.4L1056.8 614.2L1059.8 612.9L1062.8 611.6L1065.8 610.3L1068.8 608.9L1071.8 607.5L1074.8 606.1L1077.8 604.7L1080.8 603.3L1083.8 601.8L1086.8 600.4L1089.8 598.9L1092.9 597.5L1095.9 596.0L1098.9 594.6L1101.9 593.2L1104.9 591.8L1107.9 590.3L1110.9 589.0L1113.9 587.6L1116.9 586.3L1119.9 585.0L1122.9 583.7L1125.9 582.4L1128.9 581.2L1131.9 580.1L1134.9 579.0L1138.0 577.9L1141.0 576.9L1144.0 575.9L1147.0 575.0L1150.0 574.2L1153.0 573.4L1156.0 572.7L1159.0 572.1L1162.0 571.5L1165.0 571.0L1168.0 570.6L1171.0 570.3L1174.0 570.1L1177.0 570.0L1180.0 570.0L1183.0 570.1L1186.1 570.3L1189.1 570.6L1192.1 571.0L1195.1 571.5L1198.1 572.2L1201.1 573.0L1204.1 573.9L1207.1 575.0L1210.1 576.2L1213.1 577.5L1216.1 579.0L1219.1 580.6L1222.1 582.4L1225.1 584.3L1228.1 586.3L1231.2 588.4L1234.2 590.7L1237.2 593.0L1240.2 595.5L1243.2 598.1L1246.2 600.7L1249.2 603.5L1252.2 606.4L1255.2 609.3L1258.2 612.4L1261.2 615.5L1264.2 618.7L1267.2 621.9L1270.2 625.2L1273.2 628.6L1276.2 632.0L1279.3 635.5L1282.3 639.0L1285.3 642.6L1288.3 646.2L1291.3 649.8L1294.3 653.5L1297.3 657.1L1300.3 660.8L1303.3 664.5L1306.3 668.1L1309.3 671.8L1312.3 675.4L1315.3 679.0L1318.3 682.6L1321.3 686.1L1324.3 689.7L1327.4 693.2L1330.4 696.6L1333.4 700.0L1336.4 703.4L1339.4 706.8L1342.4 710.0L1345.4 713.3L1348.4 716.5L1351.4 719.6L1354.4 722.7L1357.4 725.7L1360.4 728.7L1363.4 731.6L1366.4 734.5L1369.4 737.2L1372.5 740.0L1375.5 742.7L1378.5 745.3L1381.5 747.8L1384.5 750.3L1387.5 752.7L1390.5 755.1L1393.5 757.4L1396.5 759.6L1399.5 761.8L1402.5 763.8L1405.5 765.9L1408.5 767.8L1411.5 769.7L1414.5 771.4L1417.5 773.2L1420.6 774.8L1423.6 776.4L1426.6 777.9L1429.6 779.3L1432.6 780.7L1435.6 782.0L1438.6 783.2L1441.6 784.4L1444.6 785.5L1447.6 786.6L1450.6 787.5L1453.6 788.5L1456.6 789.4L1459.6 790.2L1462.6 791.0L1465.7 791.7L1468.7 792.4L1471.7 793.0L1474.7 793.6L1477.7 794.1L1480.7 794.6L1483.7 795.1L1486.7 795.5L1489.7 795.9L1492.7 796.2L1495.7 796.5L1498.7 796.8L1501.7 797.0L1504.7 797.2L1507.7 797.4L1510.7 797.5L1513.8 797.6L1516.8 797.7L1519.8 797.7L1522.8 797.8L1525.8 797.8L1528.8 797.8L1531.8 797.8L1534.8 797.7L1537.8 797.6L1540.8 797.6L1543.8 797.5L1546.8 797.4L1549.8 797.3L1552.8 797.1L1555.8 797.0L1558.9 796.9L1561.9 796.7L1564.9 796.6L1567.9 796.4L1570.9 796.3L1573.9 796.1L1576.9 796.0L1579.9 795.8L1582.9 795.7L1585.9 795.6L1588.9 795.4L1591.9 795.3L1594.9 795.2L1597.9 795.1L1600.9 795.0L1603.9 795.0L1607.0 794.9L1610.0 794.9L1613.0 794.9L1616.0 794.9L1619.0 794.9L1622.0 795.0L1625.0 795.1L1628.0 795.2" fill="none" stroke="#000" stroke-width="5.0" stroke-linejoin="round"/>
</g>
<path d="M121.3 451.3v12 M199.4 451.3v12 M277.4 451.3v12 M355.5 451.3v12 M433.5 451.3v12 M511.6 451.3v12 M589.6 451.3v12 M667.7 451.3v12 M745.7 451.3v12 M823.8 451.3v12 M119.5 848.6v10 M197.7 848.6v10 M275.8 848.6v10 M354 848.6v10 M432.2 848.6v10 M510.3 848.6v10 M588.5 848.6v10 M666.7 848.6v10 M744.8 848.6v10 M823 848.6v10 M925.4 451.3v7.6 M1003.5 451.3v7.6 M1081.5 451.3v7.6 M1159.6 451.3v7.6 M1237.6 451.3v7.6 M1315.7 451.3v7.6 M1393.7 451.3v7.6 M1471.8 451.3v7.6 M1549.8 451.3v7.6 M1627.9 451.3v7.6 M927.1 848.6v8.5 M1005 848.6v8.5 M1082.8 848.6v8.5 M1160.7 848.6v8.5 M1238.6 848.6v8.5 M1316.4 848.6v8.5 M1394.3 848.6v8.5 M1472.2 848.6v8.5 M1550 848.6v8.5 M1627.9 848.6v8.5 M121.3 10.1h-9 M121.3 148.2h-9 M121.3 286.3h-9 M121.3 423.8h-9 M119.5 540.4h-7.5 M119.5 680.9h-7.5 M119.5 821.6h-7.5 M1627.9 12h9 M1627.9 150.1h9 M1627.9 286.3h9 M1627.9 423.3h9 M1627.9 542.2h7.5 M1627.9 681.7h7.5 M1627.9 821.7h7.5 M119.5 510.5V515 M1627.9 514.7h3.5" stroke="#000" stroke-width="3.0" fill="none"/>
<rect x="121.3" y="10.1" width="702.5" height="441.2" fill="none" stroke="#000" stroke-width="3.0"/>
<rect x="119.5" y="514.7" width="703.5" height="333.9" fill="none" stroke="#000" stroke-width="3.0"/>
<rect x="925.4" y="12" width="702.5" height="439.3" fill="none" stroke="#000" stroke-width="3.0"/>
<rect x="927.1" y="514.7" width="700.8" height="333.9" fill="none" stroke="#000" stroke-width="3.0"/>
<text transform="translate(120.4 497.8) scale(1 1.03)" font-size="33" text-anchor="middle">79</text>
<text transform="translate(197.8 497.8) scale(1 1.03)" font-size="33" text-anchor="middle">78</text>
<text transform="translate(275.2 497.8) scale(1 1.03)" font-size="33" text-anchor="middle">77</text>
<text transform="translate(352.6 497.8) scale(1 1.03)" font-size="33" text-anchor="middle">76</text>
<text transform="translate(430 497.8) scale(1 1.03)" font-size="33" text-anchor="middle">75</text>
<text transform="translate(507.4 497.8) scale(1 1.03)" font-size="33" text-anchor="middle">74</text>
<text transform="translate(584.8 497.8) scale(1 1.03)" font-size="33" text-anchor="middle">73</text>
<text transform="translate(662.2 497.8) scale(1 1.03)" font-size="33" text-anchor="middle">72</text>
<text transform="translate(739.6 497.8) scale(1 1.03)" font-size="33" text-anchor="middle">71</text>
<text transform="translate(817 497.8) scale(1 1.03)" font-size="33" text-anchor="middle">70</text>
<text transform="translate(121.3 889.2) scale(1 1.03)" font-size="33" text-anchor="middle">79</text>
<text transform="translate(198.6 889.2) scale(1 1.03)" font-size="33" text-anchor="middle">78</text>
<text transform="translate(276 889.2) scale(1 1.03)" font-size="33" text-anchor="middle">77</text>
<text transform="translate(353.3 889.2) scale(1 1.03)" font-size="33" text-anchor="middle">76</text>
<text transform="translate(430.7 889.2) scale(1 1.03)" font-size="33" text-anchor="middle">75</text>
<text transform="translate(508.1 889.2) scale(1 1.03)" font-size="33" text-anchor="middle">74</text>
<text transform="translate(585.4 889.2) scale(1 1.03)" font-size="33" text-anchor="middle">73</text>
<text transform="translate(662.7 889.2) scale(1 1.03)" font-size="33" text-anchor="middle">72</text>
<text transform="translate(740.1 889.2) scale(1 1.03)" font-size="33" text-anchor="middle">71</text>
<text transform="translate(817.4 889.2) scale(1 1.03)" font-size="33" text-anchor="middle">70</text>
<text transform="translate(924.7 497.8) scale(1 1.03)" font-size="33" text-anchor="middle">79</text>
<text transform="translate(1002.1 497.8) scale(1 1.03)" font-size="33" text-anchor="middle">78</text>
<text transform="translate(1079.4 497.8) scale(1 1.03)" font-size="33" text-anchor="middle">77</text>
<text transform="translate(1156.8 497.8) scale(1 1.03)" font-size="33" text-anchor="middle">76</text>
<text transform="translate(1234.1 497.8) scale(1 1.03)" font-size="33" text-anchor="middle">75</text>
<text transform="translate(1311.5 497.8) scale(1 1.03)" font-size="33" text-anchor="middle">74</text>
<text transform="translate(1388.8 497.8) scale(1 1.03)" font-size="33" text-anchor="middle">73</text>
<text transform="translate(1466.2 497.8) scale(1 1.03)" font-size="33" text-anchor="middle">72</text>
<text transform="translate(1543.5 497.8) scale(1 1.03)" font-size="33" text-anchor="middle">71</text>
<text transform="translate(1620.8 497.8) scale(1 1.03)" font-size="33" text-anchor="middle">70</text>
<text transform="translate(921.3 889.2) scale(1 1.03)" font-size="33" text-anchor="middle">79</text>
<text transform="translate(998.6 889.2) scale(1 1.03)" font-size="33" text-anchor="middle">78</text>
<text transform="translate(1076 889.2) scale(1 1.03)" font-size="33" text-anchor="middle">77</text>
<text transform="translate(1153.3 889.2) scale(1 1.03)" font-size="33" text-anchor="middle">76</text>
<text transform="translate(1230.7 889.2) scale(1 1.03)" font-size="33" text-anchor="middle">75</text>
<text transform="translate(1308 889.2) scale(1 1.03)" font-size="33" text-anchor="middle">74</text>
<text transform="translate(1385.4 889.2) scale(1 1.03)" font-size="33" text-anchor="middle">73</text>
<text transform="translate(1462.8 889.2) scale(1 1.03)" font-size="33" text-anchor="middle">72</text>
<text transform="translate(1540.1 889.2) scale(1 1.03)" font-size="33" text-anchor="middle">71</text>
<text transform="translate(1617.4 889.2) scale(1 1.03)" font-size="33" text-anchor="middle">70</text>
<text transform="translate(99.9 30) scale(1 1.03)" font-size="33" text-anchor="end">1.5</text>
<text transform="translate(99.7 160) scale(1 1.03)" font-size="33" text-anchor="end">1.0</text>
<text transform="translate(100 301) scale(1 1.03)" font-size="33" text-anchor="end">0.5</text>
<text transform="translate(99.6 441.3) scale(1 1.03)" font-size="33" text-anchor="end">0.0</text>
<text transform="translate(101.9 551.6) scale(1 1.03)" font-size="33" text-anchor="end">1.0</text>
<text transform="translate(103.1 692.6) scale(1 1.03)" font-size="33" text-anchor="end">0.5</text>
<text transform="translate(106.9 833.2) scale(1 1.03)" font-size="33" text-anchor="end">0.0</text>
<text transform="translate(1639.5 32.2) scale(1 1.03)" font-size="33">1.5</text>
<text transform="translate(1639.8 162) scale(1 1.03)" font-size="33">1.0</text>
<text transform="translate(1639 300.2) scale(1 1.03)" font-size="33">0.5</text>
<text transform="translate(1638.4 437.6) scale(1 1.03)" font-size="33">0.0</text>
<text transform="translate(1639.8 551.6) scale(1 1.03)" font-size="33">1.0</text>
<text transform="translate(1639.9 692.6) scale(1 1.03)" font-size="33">0.5</text>
<text transform="translate(1638.3 833.2) scale(1 1.03)" font-size="33">0.0</text>
<text transform="translate(309 939) scale(1 1.03)" font-size="39.7">Binding energy (eV)</text>
<text transform="translate(1106.3 939) scale(1 1.03)" font-size="39.7">Binding energy (eV)</text>
<text transform="translate(29.3 719.6) rotate(-90) scale(1 1.03)" font-size="39.7">Normalized Intensity (arb. units)</text>
<text transform="translate(1721.0 168.1) rotate(90) scale(1 1.03)" font-size="39.7">Normalized Intensity (arb. units)</text>
<text transform="translate(132.4 59.7) scale(1 1.03)" font-size="42.5" font-weight="bold">(a)</text>
<text transform="translate(132.8 555.5) scale(1 1.03)" font-size="42.5" font-weight="bold">(b)</text>
<text transform="translate(931.2 58.3) scale(1 1.03)" font-size="42.5" font-weight="bold">(c)</text>
<text transform="translate(931.2 554.7) scale(1 1.03)" font-size="42.5" font-weight="bold">(d)</text>
<text transform="translate(332 54.4) scale(1 1.03)" font-size="32">Pt(0.25)/TiO<tspan font-size="0.68em" dy="7">2</tspan><tspan dy="-7">-truncated bipyramid</tspan></text>
<text transform="translate(454.6 555.7) scale(1 1.03)" font-size="32">TiO<tspan font-size="0.68em" dy="7">2</tspan><tspan dy="-7">-truncated bipyramid</tspan></text>
<text transform="translate(1265.3 54.5) scale(1 1.03)" font-size="32">Pt(0.25)/TiO<tspan font-size="0.68em" dy="7">2</tspan><tspan dy="-7">-nanosheet</tspan></text>
<text transform="translate(1388.3 555.8) scale(1 1.03)" font-size="32">TiO<tspan font-size="0.68em" dy="7">2</tspan><tspan dy="-7">-nanosheet</tspan></text>
<text transform="translate(136.1 128) scale(1 1.03)" font-size="32" fill="#FFC000">Pt 4<tspan font-style="italic">f</tspan><tspan font-size="0.68em" dy="8">5/2</tspan></text>
<text transform="translate(136.3 166) scale(1 1.03)" font-size="32" fill="#FFC000">75.7 eV</text>
<text transform="translate(661.2 289) scale(1 1.03)" font-size="32" fill="#C00000">Pt 4<tspan font-style="italic">f</tspan><tspan font-size="0.68em" dy="8">7/2</tspan></text>
<text transform="translate(661.3 327) scale(1 1.03)" font-size="32" fill="#C00000">72.5 eV</text>
<text transform="translate(943.9 130.2) scale(1 1.03)" font-size="32" fill="#FFC000">Pt 4<tspan font-style="italic">f</tspan><tspan font-size="0.68em" dy="8">5/2</tspan></text>
<text transform="translate(944.6 168.6) scale(1 1.03)" font-size="32" fill="#FFC000">76.4 eV</text>
<text transform="translate(1449.9 290.6) scale(1 1.03)" font-size="32" fill="#C00000">Pt 4<tspan font-style="italic">f</tspan><tspan font-size="0.68em" dy="8">7/2</tspan></text>
<text transform="translate(1452 328.9) scale(1 1.03)" font-size="32" fill="#C00000">73.2 eV</text>
<text transform="translate(225 788) scale(1 1.03)" font-size="32.5" fill="#548235" textLength="249.5" lengthAdjust="spacing">Ti 3<tspan font-style="italic">s</tspan> energy loss</text>
<text transform="translate(1041.8 789.5) scale(1 1.03)" font-size="32.5" fill="#548235" textLength="250" lengthAdjust="spacing">Ti 3<tspan font-style="italic">s</tspan> energy loss</text>
<path d="M356.1 752V154.6H349.2L359.5 134.7L369.8 154.6H362.9V752Z" fill="#548235"/>
<path d="M1185.2 761V162.4H1178.5L1188.6 142.1L1198.7 162.4H1192V761Z" fill="#548235"/>
</svg></body></html>
